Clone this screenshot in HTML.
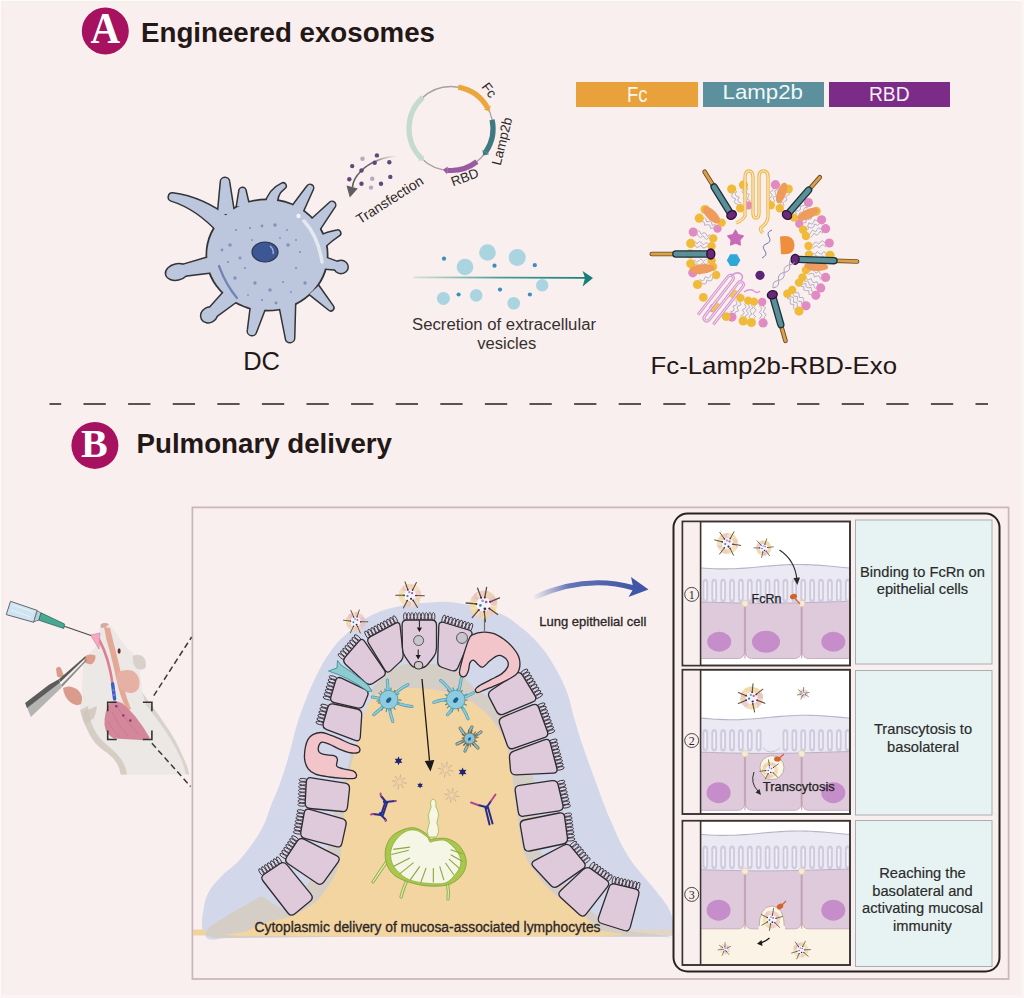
<!DOCTYPE html>
<html><head><meta charset="utf-8">
<style>
html,body{margin:0;padding:0;background:#f9efee;}
body{width:1024px;height:998px;overflow:hidden;}
svg{display:block;}
.s{font-family:"Liberation Sans",sans-serif;}
.serif{font-family:"Liberation Serif",serif;}
</style></head>
<body>
<svg width="1024" height="998" viewBox="0 0 1024 998" class="s">

<!-- base.svg -->
<rect x="0" y="0" width="1024" height="998" fill="#f9efee"/>
<rect x="0" y="0" width="1024" height="1.5" fill="#fdfcf9"/>
<rect x="0" y="0" width="1.5" height="998" fill="#fdfcf9"/>
<rect x="1.5" y="1.5" width="1021" height="1" fill="#f2eeeb"/>
<rect x="1.5" y="1.5" width="1" height="995" fill="#f2eeeb"/>
<rect x="1021.5" y="0" width="2.5" height="998" fill="#fbf5f4"/>
<rect x="0" y="995" width="1024" height="3" fill="#faf5f4"/>

<!-- secA.svg -->
<circle cx="105.3" cy="31" r="23.5" fill="#a6125f"/>
<text class="serif" transform="translate(105.2 42.6) scale(1 1.075)" x="0" y="0" text-anchor="middle" font-size="41" font-weight="bold" fill="#fff">A</text>
<text x="141" y="42" font-size="28" font-weight="bold" fill="#231816" textLength="294" lengthAdjust="spacingAndGlyphs">Engineered exosomes</text>
<rect x="576" y="82" width="122" height="25" fill="#e9a23b"/>
<rect x="703" y="82" width="121" height="25" fill="#5c909d"/>
<rect x="829" y="82" width="121" height="25" fill="#7a2c86"/>
<text x="627" y="101.6" font-size="21.5" fill="#fdf6ea" textLength="20.5" lengthAdjust="spacingAndGlyphs">Fc</text>
<text x="722.5" y="98.9" font-size="21" fill="#eef8f8" textLength="80.5" lengthAdjust="spacingAndGlyphs">Lamp2b</text>
<text x="869" y="101.4" font-size="20.5" fill="#fbeefb" textLength="40.5" lengthAdjust="spacingAndGlyphs">RBD</text>
<text x="243.2" y="370.4" font-size="25.5" fill="#231816">DC</text>
<g font-size="16" fill="#363131" text-anchor="middle">
<text x="504" y="330" textLength="184" lengthAdjust="spacingAndGlyphs">Secretion of extracellular</text>
<text x="506.7" y="349.3" font-size="16.6">vesicles</text>
</g>
<text x="650.5" y="374" font-size="24" fill="#231816" textLength="246.5" lengthAdjust="spacingAndGlyphs">Fc-Lamp2b-RBD-Exo</text>
<line x1="49.5" y1="404" x2="988" y2="404" stroke="#5b5251" stroke-width="2.2" stroke-dasharray="22.3 22.3" stroke-dashoffset="10.6"/>

<!-- plasmid.svg -->
<circle cx="451" cy="128.5" r="42" fill="none" stroke="#a5a2a3" stroke-width="1.3"/>
<path d="M420.8 157.7 A42.0 42.0 0 0 1 422.9 97.3" fill="none" stroke="#c6dbd0" stroke-width="5.2"/>
<path d="M417.9 160.5 L424.0 160.7 L423.7 154.9 Z" fill="#c6dbd0"/>
<path d="M458.3 87.1 A42.0 42.0 0 0 1 487.4 107.5" fill="none" stroke="#eaa73c" stroke-width="5.2"/>
<path d="M490.8 105.5 L489.4 111.4 L483.9 109.5 Z" fill="#eaa73c"/>
<path d="M492.1 119.8 A42.0 42.0 0 0 1 485.8 152.0" fill="none" stroke="#3f7a80" stroke-width="5.2"/>
<path d="M489.1 154.2 L483.2 155.5 L482.5 149.7 Z" fill="#3f7a80"/>
<path d="M476.9 161.6 A42.0 42.0 0 0 1 447.3 170.3" fill="none" stroke="#9a5aa2" stroke-width="5.2"/>
<path d="M447.0 174.3 L443.0 169.7 L447.7 166.4 Z" fill="#9a5aa2"/>
<text transform="translate(481,87) rotate(52)" font-size="13.5" fill="#2b2626">Fc</text>
<text transform="translate(500.5,166) rotate(-76)" font-size="13.5" fill="#2b2626">Lamp2b</text>
<text transform="translate(453,186.5) rotate(-20)" font-size="13.5" fill="#2b2626">RBD</text>
<text transform="translate(360,224.5) rotate(-32.5)" font-size="14" fill="#2b2626">Transfection</text>
<defs><linearGradient id="tg" x1="1" y1="0" x2="0" y2="1"><stop offset="0" stop-color="#6c6a6f" stop-opacity="0"/><stop offset="0.4" stop-color="#6c6a6f"/><stop offset="1" stop-color="#5e5c62"/></linearGradient></defs>
<path d="M397 156.3 C385 156.5 370 162 361 171 C356 176 353 181 352.5 187" fill="none" stroke="url(#tg)" stroke-width="1.6"/>
<path d="M346.5 185.5 L357.8 188.5 L349.8 197.5 Z" fill="#5f5d63"/>
<circle cx="376.9" cy="155.4" r="2.2" fill="#634679"/>
<circle cx="389.3" cy="162.2" r="2.2" fill="#634679"/>
<circle cx="352.2" cy="166.1" r="2.2" fill="#634679"/>
<circle cx="374.7" cy="162.7" r="2.2" fill="#634679"/>
<circle cx="361.5" cy="170.5" r="2.2" fill="#634679"/>
<circle cx="349.3" cy="179.3" r="2.2" fill="#634679"/>
<circle cx="390.3" cy="176.9" r="2.2" fill="#634679"/>
<circle cx="361.5" cy="183.7" r="2.2" fill="#634679"/>
<circle cx="381.0" cy="183.7" r="2.2" fill="#634679"/>
<circle cx="362.5" cy="158.8" r="2.2" fill="#b9a7c0"/>
<circle cx="372.2" cy="178.8" r="2.2" fill="#b9a7c0"/>
<circle cx="371.0" cy="187.6" r="2.2" fill="#b9a7c0"/>
<!-- dc.svg -->
<path d="M231.1 219.4 Q203.0 197.5 172.7 193.6 A3.5 3.5 0 0 0 171.3 200.4 Q197.0 208.5 218.9 232.6 Z" fill="#bcc6dc" stroke="#333338" stroke-width="3" stroke-linejoin="round"/>
<path d="M234.0 213.8 Q231.5 197.8 229.0 181.9 A4.0 4.0 0 0 0 221.0 182.1 Q219.5 198.2 218.0 214.2 Z" fill="#bcc6dc" stroke="#333338" stroke-width="3" stroke-linejoin="round"/>
<path d="M249.0 205.8 Q247.2 198.4 245.5 190.9 A3.0 3.0 0 0 0 239.5 191.1 Q238.3 198.6 237.0 206.2 Z" fill="#bcc6dc" stroke="#333338" stroke-width="3" stroke-linejoin="round"/>
<path d="M277.0 206.4 Q275.6 194.2 284.2 188.2 A2.5 2.5 0 0 0 281.8 183.8 Q268.4 189.8 265.0 205.6 Z" fill="#bcc6dc" stroke="#333338" stroke-width="3" stroke-linejoin="round"/>
<path d="M299.6 218.3 Q306.1 203.9 312.6 189.5 A3.0 3.0 0 0 0 307.4 186.5 Q297.9 199.1 288.4 211.7 Z" fill="#bcc6dc" stroke="#333338" stroke-width="3" stroke-linejoin="round"/>
<path d="M318.9 230.2 Q326.6 218.6 334.3 207.0 A3.0 3.0 0 0 0 329.7 203.0 Q319.4 212.4 309.1 221.8 Z" fill="#bcc6dc" stroke="#333338" stroke-width="3" stroke-linejoin="round"/>
<path d="M324.3 247.0 Q332.0 239.8 338.9 235.3 A2.5 2.5 0 0 0 337.1 230.7 Q328.0 232.2 317.7 237.0 Z" fill="#bcc6dc" stroke="#333338" stroke-width="3" stroke-linejoin="round"/>
<path d="M318.7 267.9 Q328.0 268.6 337.2 269.4 A3.5 3.5 0 0 0 338.8 262.6 Q330.0 259.4 321.3 256.1 Z" fill="#bcc6dc" stroke="#333338" stroke-width="3" stroke-linejoin="round"/>
<path d="M309.6 294.1 Q319.4 301.9 329.2 309.7 A2.5 2.5 0 0 0 332.8 306.3 Q325.6 296.1 318.4 285.9 Z" fill="#bcc6dc" stroke="#333338" stroke-width="3" stroke-linejoin="round"/>
<path d="M279.0 302.7 Q282.5 320.5 286.0 338.3 A4.0 4.0 0 0 0 294.0 337.7 Q294.5 319.5 295.0 301.3 Z" fill="#bcc6dc" stroke="#333338" stroke-width="3" stroke-linejoin="round"/>
<path d="M251.7 301.2 Q249.9 315.6 248.1 330.0 A4.0 4.0 0 0 0 255.9 332.0 Q261.1 318.4 266.3 304.8 Z" fill="#bcc6dc" stroke="#333338" stroke-width="3" stroke-linejoin="round"/>
<path d="M227.6 288.1 Q218.1 298.7 208.6 309.3 A5.0 5.0 0 0 0 215.4 316.7 Q226.9 308.3 238.4 299.9 Z" fill="#bcc6dc" stroke="#333338" stroke-width="3" stroke-linejoin="round"/>
<path d="M212.4 256.2 Q195.7 261.1 179.0 266.1 A5.0 5.0 0 0 0 181.0 275.9 Q198.3 273.9 215.6 271.8 Z" fill="#bcc6dc" stroke="#333338" stroke-width="3" stroke-linejoin="round"/>
<ellipse cx="177" cy="272" rx="11" ry="7.5" transform="rotate(-12 177 272)" fill="#bcc6dc" stroke="#333338" stroke-width="3"/>
<ellipse cx="209" cy="315" rx="8" ry="7" transform="rotate(-30 209 315)" fill="#bcc6dc" stroke="#333338" stroke-width="3"/>
<ellipse cx="341" cy="267" rx="6.5" ry="6" transform="rotate(0 341 267)" fill="#bcc6dc" stroke="#333338" stroke-width="3"/>
<ellipse cx="267" cy="255" rx="60" ry="55" fill="#bcc6dc" stroke="#333338" stroke-width="3"/>
<path d="M231.1 219.4 Q203.0 197.5 172.7 193.6 A3.5 3.5 0 0 0 171.3 200.4 Q197.0 208.5 218.9 232.6 Z" fill="#bcc6dc"/>
<path d="M234.0 213.8 Q231.5 197.8 229.0 181.9 A4.0 4.0 0 0 0 221.0 182.1 Q219.5 198.2 218.0 214.2 Z" fill="#bcc6dc"/>
<path d="M249.0 205.8 Q247.2 198.4 245.5 190.9 A3.0 3.0 0 0 0 239.5 191.1 Q238.3 198.6 237.0 206.2 Z" fill="#bcc6dc"/>
<path d="M277.0 206.4 Q275.6 194.2 284.2 188.2 A2.5 2.5 0 0 0 281.8 183.8 Q268.4 189.8 265.0 205.6 Z" fill="#bcc6dc"/>
<path d="M299.6 218.3 Q306.1 203.9 312.6 189.5 A3.0 3.0 0 0 0 307.4 186.5 Q297.9 199.1 288.4 211.7 Z" fill="#bcc6dc"/>
<path d="M318.9 230.2 Q326.6 218.6 334.3 207.0 A3.0 3.0 0 0 0 329.7 203.0 Q319.4 212.4 309.1 221.8 Z" fill="#bcc6dc"/>
<path d="M324.3 247.0 Q332.0 239.8 338.9 235.3 A2.5 2.5 0 0 0 337.1 230.7 Q328.0 232.2 317.7 237.0 Z" fill="#bcc6dc"/>
<path d="M318.7 267.9 Q328.0 268.6 337.2 269.4 A3.5 3.5 0 0 0 338.8 262.6 Q330.0 259.4 321.3 256.1 Z" fill="#bcc6dc"/>
<path d="M309.6 294.1 Q319.4 301.9 329.2 309.7 A2.5 2.5 0 0 0 332.8 306.3 Q325.6 296.1 318.4 285.9 Z" fill="#bcc6dc"/>
<path d="M279.0 302.7 Q282.5 320.5 286.0 338.3 A4.0 4.0 0 0 0 294.0 337.7 Q294.5 319.5 295.0 301.3 Z" fill="#bcc6dc"/>
<path d="M251.7 301.2 Q249.9 315.6 248.1 330.0 A4.0 4.0 0 0 0 255.9 332.0 Q261.1 318.4 266.3 304.8 Z" fill="#bcc6dc"/>
<path d="M227.6 288.1 Q218.1 298.7 208.6 309.3 A5.0 5.0 0 0 0 215.4 316.7 Q226.9 308.3 238.4 299.9 Z" fill="#bcc6dc"/>
<path d="M212.4 256.2 Q195.7 261.1 179.0 266.1 A5.0 5.0 0 0 0 181.0 275.9 Q198.3 273.9 215.6 271.8 Z" fill="#bcc6dc"/>
<ellipse cx="177" cy="272" rx="11" ry="7.5" transform="rotate(-12 177 272)" fill="#bcc6dc"/>
<ellipse cx="209" cy="315" rx="8" ry="7" transform="rotate(-30 209 315)" fill="#bcc6dc"/>
<ellipse cx="341" cy="267" rx="6.5" ry="6" transform="rotate(0 341 267)" fill="#bcc6dc"/>
<ellipse cx="267" cy="255" rx="59.8" ry="54.8" fill="#bcc6dc"/>
<path d="M304 221 Q318 236 322 262" stroke="#e4e8f0" stroke-width="3.5" fill="none" stroke-linecap="round"/>
<circle cx="298.5" cy="216" r="2.2" fill="#f0f2f6"/>
<path d="M219 266 Q226 285 237 298" stroke="#6f85b6" stroke-width="2.2" fill="none" stroke-linecap="round"/>
<circle cx="236" cy="230" r="1.1" fill="#7f92bd"/>
<circle cx="250" cy="228" r="1.1" fill="#7f92bd"/>
<circle cx="262" cy="226" r="1.4" fill="#7f92bd"/>
<circle cx="275" cy="225" r="1.7" fill="#7f92bd"/>
<circle cx="287" cy="230" r="0.9" fill="#7f92bd"/>
<circle cx="296" cy="240" r="0.9" fill="#7f92bd"/>
<circle cx="230" cy="245" r="1.7" fill="#7f92bd"/>
<circle cx="240" cy="258" r="1.4" fill="#7f92bd"/>
<circle cx="228" cy="262" r="1.1" fill="#7f92bd"/>
<circle cx="245" cy="268" r="1.1" fill="#7f92bd"/>
<circle cx="235" cy="278" r="1.7" fill="#7f92bd"/>
<circle cx="255" cy="283" r="1.7" fill="#7f92bd"/>
<circle cx="270" cy="290" r="1.7" fill="#7f92bd"/>
<circle cx="283" cy="282" r="1.1" fill="#7f92bd"/>
<circle cx="296" cy="268" r="1.1" fill="#7f92bd"/>
<circle cx="300" cy="252" r="1.1" fill="#7f92bd"/>
<circle cx="288" cy="245" r="1.7" fill="#7f92bd"/>
<circle cx="280" cy="238" r="0.9" fill="#7f92bd"/>
<circle cx="252" cy="240" r="0.9" fill="#7f92bd"/>
<circle cx="262" cy="300" r="1.1" fill="#7f92bd"/>
<circle cx="248" cy="295" r="0.9" fill="#7f92bd"/>
<circle cx="276" cy="303" r="1.4" fill="#7f92bd"/>
<circle cx="291" cy="292" r="0.9" fill="#7f92bd"/>
<circle cx="222" cy="250" r="1.4" fill="#7f92bd"/>
<circle cx="305" cy="283" r="1.7" fill="#7f92bd"/>
<ellipse cx="265" cy="252" rx="13" ry="10" fill="#3d5795" stroke="#2b3550" stroke-width="1.2"/>
<path d="M270 246 Q274 249 273 254" stroke="#a9b8d9" stroke-width="1.3" fill="none"/>
<!-- vesicles.svg -->
<defs><linearGradient id="vg" x1="0" y1="0" x2="1" y2="0"><stop offset="0" stop-color="#1b8b82" stop-opacity="0.15"/><stop offset="0.5" stop-color="#1b8b82" stop-opacity="0.8"/><stop offset="1" stop-color="#178078"/></linearGradient></defs>
<g fill="#a9d4e0">
<circle cx="465" cy="267" r="8.3"/><circle cx="487.5" cy="252.5" r="8.3"/><circle cx="517.2" cy="257.5" r="8.5"/>
<circle cx="542.2" cy="285.3" r="6.2"/><circle cx="443.4" cy="298.4" r="6.5"/><circle cx="476.2" cy="295.4" r="6.3"/><circle cx="513.7" cy="303.2" r="6.3"/>
</g>
<g fill="#3b8fbc">
<circle cx="444" cy="258.7" r="2.1"/><circle cx="494.5" cy="265.7" r="2.1"/><circle cx="534.8" cy="265.2" r="2.1"/>
<circle cx="458.6" cy="294.5" r="2.1"/><circle cx="500" cy="289.6" r="2.1"/><circle cx="529.9" cy="294.5" r="2.1"/>
</g>
<line x1="413.5" y1="277.4" x2="585" y2="277.8" stroke="url(#vg)" stroke-width="1.8"/>
<path d="M582.6 271 L593 278 L582.6 286.6 L585 278 Z" fill="#178078"/>

<!-- exo.svg -->
<path d="M694.0 255.2 L696.2 254.9 L698.5 257.3 L700.5 254.9 L702.7 254.6 L705.0 257.0 L707.0 254.6 " stroke="#aeaabd" stroke-width="0.9" fill="none"/>
<path d="M694.0 250.3 L696.2 253.0 L698.3 252.0 L700.5 250.4 L702.7 253.2 L704.8 252.2 L707.0 250.5 " stroke="#aeaabd" stroke-width="0.9" fill="none"/>
<path d="M694.5 244.4 L696.4 247.3 L698.6 247.0 L701.0 245.1 L702.9 248.0 L705.1 247.7 L707.5 245.8 " stroke="#aeaabd" stroke-width="0.9" fill="none"/>
<path d="M695.0 241.3 L696.8 243.8 L699.4 241.7 L701.5 242.4 L703.2 244.9 L705.8 242.8 L707.9 243.5 " stroke="#aeaabd" stroke-width="0.9" fill="none"/>
<path d="M696.8 233.8 L698.4 236.2 L700.3 237.6 L703.1 235.6 L704.7 238.0 L706.5 239.4 L709.3 237.3 " stroke="#aeaabd" stroke-width="0.9" fill="none"/>
<path d="M698.0 230.4 L699.9 231.6 L701.2 234.3 L704.1 232.5 L706.0 233.7 L707.4 236.4 L710.3 234.6 " stroke="#aeaabd" stroke-width="0.9" fill="none"/>
<path d="M702.0 221.5 L704.1 222.1 L704.8 225.4 L707.7 224.5 L709.9 225.2 L710.6 228.5 L713.5 227.6 " stroke="#aeaabd" stroke-width="0.9" fill="none"/>
<path d="M704.3 217.6 L705.9 219.0 L706.7 222.0 L709.8 221.0 L711.5 222.4 L712.2 225.4 L715.4 224.4 " stroke="#aeaabd" stroke-width="0.9" fill="none"/>
<path d="M707.1 213.5 L709.5 214.0 L709.6 217.5 L712.3 217.4 L714.7 217.9 L714.8 221.3 L717.6 221.3 " stroke="#aeaabd" stroke-width="0.9" fill="none"/>
<path d="M710.2 209.7 L711.6 211.4 L711.8 214.5 L715.2 213.9 L716.6 215.6 L716.8 218.6 L720.1 218.1 " stroke="#aeaabd" stroke-width="0.9" fill="none"/>
<path d="M732.9 192.8 L731.6 195.8 L732.7 197.7 L735.7 198.7 L734.4 201.7 L735.5 203.6 L738.5 204.5 " stroke="#aeaabd" stroke-width="0.9" fill="none"/>
<path d="M736.7 191.2 L735.1 194.2 L736.3 196.1 L739.2 197.2 L737.6 200.2 L738.8 202.1 L741.6 203.3 " stroke="#aeaabd" stroke-width="0.9" fill="none"/>
<path d="M743.8 189.0 L741.8 191.8 L743.3 193.6 L745.6 195.3 L743.5 198.1 L745.0 199.9 L747.3 201.5 " stroke="#aeaabd" stroke-width="0.9" fill="none"/>
<path d="M747.8 188.1 L746.8 190.6 L746.0 192.9 L749.2 194.5 L748.1 196.9 L747.4 199.3 L750.5 200.8 " stroke="#aeaabd" stroke-width="0.9" fill="none"/>
<path d="M773.4 188.4 L772.8 190.5 L770.1 192.2 L772.2 194.8 L771.5 196.8 L768.9 198.5 L771.0 201.1 " stroke="#aeaabd" stroke-width="0.9" fill="none"/>
<path d="M777.9 189.5 L774.7 190.9 L775.4 193.3 L776.3 195.8 L773.1 197.2 L773.8 199.6 L774.7 202.1 " stroke="#aeaabd" stroke-width="0.9" fill="none"/>
<path d="M785.3 192.1 L782.5 193.2 L784.1 196.2 L782.9 198.1 L780.1 199.3 L781.6 202.2 L780.4 204.1 " stroke="#aeaabd" stroke-width="0.9" fill="none"/>
<path d="M789.9 194.1 L787.6 195.4 L785.5 196.8 L787.0 200.0 L784.8 201.3 L782.7 202.7 L784.2 205.8 " stroke="#aeaabd" stroke-width="0.9" fill="none"/>
<path d="M805.0 204.7 L803.1 205.9 L800.1 206.1 L800.6 209.5 L798.7 210.7 L795.7 211.0 L796.3 214.3 " stroke="#aeaabd" stroke-width="0.9" fill="none"/>
<path d="M808.3 207.9 L804.9 207.6 L803.7 209.4 L803.6 212.5 L800.3 212.2 L799.0 214.0 L799.0 217.0 " stroke="#aeaabd" stroke-width="0.9" fill="none"/>
<path d="M812.5 213.0 L810.2 213.6 L807.4 213.5 L807.4 217.0 L805.1 217.6 L802.3 217.6 L802.3 221.0 " stroke="#aeaabd" stroke-width="0.9" fill="none"/>
<path d="M814.4 215.6 L811.6 215.3 L811.3 218.8 L809.1 219.3 L806.2 219.0 L806.0 222.5 L803.7 223.0 " stroke="#aeaabd" stroke-width="0.9" fill="none"/>
<path d="M817.7 220.9 L814.5 219.7 L813.5 222.3 L812.1 224.2 L808.8 222.9 L807.9 225.6 L806.5 227.5 " stroke="#aeaabd" stroke-width="0.9" fill="none"/>
<path d="M819.4 224.2 L817.5 225.3 L814.5 224.0 L813.6 227.1 L811.7 228.2 L808.6 226.9 L807.7 230.0 " stroke="#aeaabd" stroke-width="0.9" fill="none"/>
<path d="M821.7 229.5 L818.6 227.7 L817.1 229.6 L815.7 231.9 L812.6 230.2 L811.0 232.1 L809.6 234.4 " stroke="#aeaabd" stroke-width="0.9" fill="none"/>
<path d="M823.0 233.1 L820.0 231.3 L818.6 233.7 L816.8 235.2 L813.9 233.3 L812.4 235.8 L810.6 237.3 " stroke="#aeaabd" stroke-width="0.9" fill="none"/>
<path d="M825.3 243.1 L822.7 240.8 L820.6 241.8 L818.9 244.2 L816.3 242.0 L814.2 242.9 L812.5 245.3 " stroke="#aeaabd" stroke-width="0.9" fill="none"/>
<path d="M825.8 247.2 L823.3 244.8 L821.2 245.6 L819.3 247.9 L816.9 245.6 L814.8 246.3 L812.8 248.6 " stroke="#aeaabd" stroke-width="0.9" fill="none"/>
<path d="M826.0 253.6 L823.8 251.5 L821.7 254.1 L819.5 253.5 L817.3 251.5 L815.2 254.1 L813.0 253.5 " stroke="#aeaabd" stroke-width="0.9" fill="none"/>
<path d="M825.8 258.8 L823.7 256.5 L821.6 255.9 L819.3 258.4 L817.3 256.1 L815.1 255.5 L812.8 258.0 " stroke="#aeaabd" stroke-width="0.9" fill="none"/>
<path d="M822.1 275.3 L820.4 273.6 L818.9 271.3 L816.0 273.2 L814.3 271.5 L812.7 269.2 L809.8 271.1 " stroke="#aeaabd" stroke-width="0.9" fill="none"/>
<path d="M820.5 279.4 L819.5 276.2 L817.3 275.8 L814.5 277.0 L813.5 273.7 L811.3 273.3 L808.5 274.5 " stroke="#aeaabd" stroke-width="0.9" fill="none"/>
<path d="M817.9 284.7 L817.1 281.6 L814.0 282.8 L812.2 281.6 L811.3 278.6 L808.3 279.7 L806.4 278.6 " stroke="#aeaabd" stroke-width="0.9" fill="none"/>
<path d="M815.4 288.8 L814.3 286.5 L813.2 284.2 L809.9 285.4 L808.8 283.1 L807.7 280.8 L804.4 282.0 " stroke="#aeaabd" stroke-width="0.9" fill="none"/>
<path d="M813.5 291.7 L811.5 290.8 L811.2 287.4 L808.2 287.9 L806.2 287.0 L805.9 283.6 L802.9 284.1 " stroke="#aeaabd" stroke-width="0.9" fill="none"/>
<path d="M811.1 294.7 L808.9 294.1 L808.9 290.6 L806.1 290.6 L803.8 290.0 L803.8 286.5 L801.0 286.6 " stroke="#aeaabd" stroke-width="0.9" fill="none"/>
<path d="M803.8 302.4 L803.6 299.6 L802.9 297.4 L799.4 297.6 L799.2 294.9 L798.4 292.6 L795.0 292.9 " stroke="#aeaabd" stroke-width="0.9" fill="none"/>
<path d="M801.3 304.5 L801.6 301.4 L798.3 301.4 L797.2 299.5 L797.5 296.4 L794.1 296.3 L793.1 294.4 " stroke="#aeaabd" stroke-width="0.9" fill="none"/>
<path d="M797.2 307.5 L797.4 304.7 L796.9 302.4 L793.5 302.2 L793.6 299.5 L793.2 297.1 L789.7 296.9 " stroke="#aeaabd" stroke-width="0.9" fill="none"/>
<path d="M794.0 309.6 L793.6 307.3 L794.0 304.5 L790.6 304.1 L790.1 301.8 L790.6 299.0 L787.1 298.6 " stroke="#aeaabd" stroke-width="0.9" fill="none"/>
<path d="M763.8 318.9 L764.5 316.7 L766.2 314.4 L763.3 312.4 L764.0 310.2 L765.7 307.9 L762.8 305.9 " stroke="#aeaabd" stroke-width="0.9" fill="none"/>
<path d="M759.3 319.0 L761.1 316.8 L762.0 314.6 L759.3 312.5 L761.1 310.3 L761.9 308.1 L759.2 306.0 " stroke="#aeaabd" stroke-width="0.9" fill="none"/>
<path d="M753.6 318.7 L755.7 316.7 L753.3 314.3 L754.1 312.2 L756.3 310.2 L753.8 307.8 L754.7 305.7 " stroke="#aeaabd" stroke-width="0.9" fill="none"/>
<path d="M749.2 318.1 L749.3 315.9 L752.1 314.2 L750.2 311.7 L750.3 309.5 L753.1 307.8 L751.2 305.3 " stroke="#aeaabd" stroke-width="0.9" fill="none"/>
<path d="M745.1 317.3 L746.1 315.3 L748.6 313.6 L746.5 311.0 L747.4 308.9 L749.9 307.3 L747.9 304.6 " stroke="#aeaabd" stroke-width="0.9" fill="none"/>
<path d="M740.6 316.1 L743.3 314.6 L744.2 312.6 L742.3 309.8 L745.1 308.4 L746.0 306.4 L744.1 303.6 " stroke="#aeaabd" stroke-width="0.9" fill="none"/>
<path d="M734.8 314.0 L735.4 311.9 L738.6 310.8 L737.2 308.0 L737.8 305.9 L741.0 304.8 L739.7 301.9 " stroke="#aeaabd" stroke-width="0.9" fill="none"/>
<path d="M730.2 311.9 L733.4 311.0 L734.2 309.0 L733.0 306.0 L736.1 305.1 L737.0 303.1 L735.8 300.2 " stroke="#aeaabd" stroke-width="0.9" fill="none"/>
<path d="M701.3 283.1 L704.3 284.2 L706.2 283.2 L707.0 280.0 L710.0 281.1 L711.9 280.1 L712.7 276.9 " stroke="#aeaabd" stroke-width="0.9" fill="none"/>
<path d="M699.5 279.4 L702.6 281.0 L704.2 279.3 L705.4 276.7 L708.5 278.2 L710.1 276.6 L711.3 274.0 " stroke="#aeaabd" stroke-width="0.9" fill="none"/>
<path d="M696.9 272.5 L699.8 274.4 L701.3 271.9 L703.1 270.5 L706.0 272.4 L707.5 269.9 L709.3 268.5 " stroke="#aeaabd" stroke-width="0.9" fill="none"/>
<path d="M695.9 268.9 L698.6 270.6 L700.1 267.8 L702.2 267.2 L704.9 269.0 L706.4 266.1 L708.5 265.6 " stroke="#aeaabd" stroke-width="0.9" fill="none"/>
<path d="M695.1 264.8 L697.1 263.8 L699.7 266.0 L701.4 263.6 L703.5 262.6 L706.1 264.8 L707.8 262.4 " stroke="#aeaabd" stroke-width="0.9" fill="none"/>
<path d="M694.3 259.7 L696.8 262.1 L698.8 260.9 L700.8 258.9 L703.3 261.3 L705.3 260.1 L707.2 258.1 " stroke="#aeaabd" stroke-width="0.9" fill="none"/>
<circle cx="690.0" cy="253.9" r="4.6" fill="#f0bb3b"/>
<circle cx="711.0" cy="253.6" r="4.2" fill="#e08cc2"/>
<circle cx="690.7" cy="243.4" r="4.6" fill="#f0bb3b"/>
<circle cx="711.5" cy="246.3" r="4.2" fill="#f0bb3b"/>
<circle cx="693.2" cy="232.1" r="4.6" fill="#e08cc2"/>
<circle cx="713.2" cy="238.4" r="4.2" fill="#f0bb3b"/>
<circle cx="699.3" cy="218.2" r="4.6" fill="#f0bb3b"/>
<circle cx="717.5" cy="228.6" r="4.2" fill="#e08cc2"/>
<circle cx="705.1" cy="209.6" r="4.6" fill="#f0bb3b"/>
<circle cx="721.6" cy="222.6" r="4.2" fill="#f0bb3b"/>
<circle cx="731.7" cy="189.0" r="4.6" fill="#f0bb3b"/>
<circle cx="740.2" cy="208.2" r="4.2" fill="#f0bb3b"/>
<circle cx="743.5" cy="185.0" r="4.6" fill="#f0bb3b"/>
<circle cx="748.4" cy="205.4" r="4.2" fill="#e08cc2"/>
<circle cx="775.4" cy="184.7" r="4.6" fill="#e08cc2"/>
<circle cx="770.8" cy="205.2" r="4.2" fill="#f0bb3b"/>
<circle cx="788.3" cy="189.0" r="4.6" fill="#f0bb3b"/>
<circle cx="779.8" cy="208.2" r="4.2" fill="#f0bb3b"/>
<circle cx="808.4" cy="202.5" r="4.6" fill="#e08cc2"/>
<circle cx="793.9" cy="217.6" r="4.2" fill="#f0bb3b"/>
<circle cx="816.2" cy="211.3" r="4.6" fill="#f0bb3b"/>
<circle cx="799.3" cy="223.8" r="4.2" fill="#e08cc2"/>
<circle cx="821.6" cy="219.8" r="4.6" fill="#e08cc2"/>
<circle cx="803.1" cy="229.7" r="4.2" fill="#f0bb3b"/>
<circle cx="825.6" cy="228.7" r="4.6" fill="#e08cc2"/>
<circle cx="805.9" cy="236.0" r="4.2" fill="#f0bb3b"/>
<circle cx="829.3" cy="243.0" r="4.6" fill="#e08cc2"/>
<circle cx="808.5" cy="246.0" r="4.2" fill="#f0bb3b"/>
<circle cx="830.0" cy="255.3" r="4.6" fill="#f0bb3b"/>
<circle cx="809.0" cy="254.6" r="4.2" fill="#f0bb3b"/>
<circle cx="825.6" cy="277.4" r="4.6" fill="#e08cc2"/>
<circle cx="805.9" cy="270.1" r="4.2" fill="#f0bb3b"/>
<circle cx="820.7" cy="287.9" r="4.6" fill="#e08cc2"/>
<circle cx="802.5" cy="277.4" r="4.2" fill="#f0bb3b"/>
<circle cx="815.8" cy="295.3" r="4.6" fill="#e08cc2"/>
<circle cx="799.0" cy="282.6" r="4.2" fill="#f0bb3b"/>
<circle cx="806.0" cy="305.8" r="4.6" fill="#e08cc2"/>
<circle cx="792.2" cy="290.0" r="4.2" fill="#f0bb3b"/>
<circle cx="799.0" cy="311.1" r="4.6" fill="#f0bb3b"/>
<circle cx="787.3" cy="293.7" r="4.2" fill="#f0bb3b"/>
<circle cx="763.1" cy="322.9" r="4.6" fill="#e08cc2"/>
<circle cx="762.2" cy="302.0" r="4.2" fill="#e08cc2"/>
<circle cx="751.4" cy="322.5" r="4.6" fill="#f0bb3b"/>
<circle cx="754.0" cy="301.6" r="4.2" fill="#f0bb3b"/>
<circle cx="743.2" cy="320.9" r="4.6" fill="#f0bb3b"/>
<circle cx="748.2" cy="300.6" r="4.2" fill="#f0bb3b"/>
<circle cx="731.9" cy="317.1" r="4.6" fill="#e08cc2"/>
<circle cx="740.4" cy="297.9" r="4.2" fill="#f0bb3b"/>
<circle cx="697.5" cy="284.5" r="4.6" fill="#f0bb3b"/>
<circle cx="716.2" cy="275.0" r="4.2" fill="#f0bb3b"/>
<circle cx="692.8" cy="272.8" r="4.6" fill="#e08cc2"/>
<circle cx="713.0" cy="266.8" r="4.2" fill="#f0bb3b"/>
<circle cx="690.8" cy="263.8" r="4.6" fill="#f0bb3b"/>
<circle cx="711.6" cy="260.6" r="4.2" fill="#f0bb3b"/>
<circle cx="726.2" cy="316.6" r="4.4" fill="#f0bb3b"/>
<circle cx="713.7" cy="308.2" r="4.4" fill="#e08cc2"/>
<circle cx="703.3" cy="297.3" r="4.4" fill="#f0bb3b"/>
<ellipse cx="711.5" cy="215.0" rx="11.0" ry="5.0" transform="rotate(45.0 711.5 215.0)" fill="#ef9b5c"/>
<ellipse cx="781.6" cy="193.0" rx="11.0" ry="4.5" transform="rotate(-70.0 781.6 193.0)" fill="#ef9b5c"/>
<ellipse cx="808.0" cy="214.2" rx="11.5" ry="4.8" transform="rotate(-25.0 808.0 214.2)" fill="#ef9b5c"/>
<ellipse cx="702.0" cy="269.0" rx="12.5" ry="4.8" transform="rotate(-5.0 702.0 269.0)" fill="#ef9b5c"/>
<ellipse cx="816.2" cy="266.4" rx="12.0" ry="4.5" transform="rotate(3.0 816.2 266.4)" fill="#ef9b5c"/>
<path d="M736 223 Q742 221 745 216 L745 178 Q745 171 749 171 Q753 171 753 178 L753 213 Q753 218 756 218 Q759 218 759 213 L759 177 Q759 171 763.5 171 Q768 171 768 177 L768 216 Q768 222 763 226 Q758 229 763 233" fill="none" stroke="#f0b848" stroke-width="3.4" stroke-linejoin="round"/>
<path d="M736 223 Q742 221 745 216 L745 178 Q745 171 749 171 Q753 171 753 178 L753 213 Q753 218 756 218 Q759 218 759 213 L759 177 Q759 171 763.5 171 Q768 171 768 177 L768 216 Q768 222 763 226 Q758 229 763 233" fill="none" stroke="#fbeede" stroke-width="1.1" stroke-linejoin="round"/>
<g transform="translate(721 300) rotate(-52)"><rect x="-14" y="-2" width="10" height="4" fill="#f1c552"/><rect x="8" y="4" width="9" height="4" fill="#f1c552"/><path d="M-26 -9 L22 -9 Q26 -9 26 -6 Q26 -3 22 -3 L-22 -3 Q-26 -3 -26 0 Q-26 3 -22 3 L24 3 Q27 3 27 6 Q27 9 24 9 L-24 9" fill="none" stroke="#d79ad2" stroke-width="3" stroke-linejoin="round"/><path d="M-26 -9 L22 -9 Q26 -9 26 -6 Q26 -3 22 -3 L-22 -3 Q-26 -3 -26 0 Q-26 3 -22 3 L24 3 Q27 3 27 6 Q27 9 24 9 L-24 9" fill="none" stroke="#f6e4ea" stroke-width="0.9" stroke-linejoin="round"/></g>
<path d="M731 276 Q736 271 741 274 Q744 277 741 280" fill="none" stroke="#d79ad2" stroke-width="1.5"/>
<path d="M744 292 Q750 288 754 291 Q757 294 760 291" fill="none" stroke="#d79ad2" stroke-width="1.5"/>
<line x1="714.1" y1="187.0" x2="704.6" y2="171.7" stroke="#6b4a1c" stroke-width="4.6" stroke-linecap="round"/><line x1="714.1" y1="187.0" x2="704.6" y2="171.7" stroke="#d9a04e" stroke-width="2.8" stroke-linecap="round"/><line x1="730.0" y1="212.5" x2="714.1" y2="187.0" stroke="#1e3138" stroke-width="7.4" stroke-linecap="round"/><line x1="730.0" y1="212.5" x2="714.1" y2="187.0" stroke="#5a8f98" stroke-width="4.8" stroke-linecap="round"/><ellipse cx="731.6" cy="215.0" rx="4.0" ry="5.0" transform="rotate(-122.0 731.6 215.0)" fill="#6a2878" stroke="#2a1030" stroke-width="1.3"/>
<line x1="808.6" y1="190.1" x2="819.8" y2="177.3" stroke="#6b4a1c" stroke-width="4.6" stroke-linecap="round"/><line x1="808.6" y1="190.1" x2="819.8" y2="177.3" stroke="#d9a04e" stroke-width="2.8" stroke-linecap="round"/><line x1="789.0" y1="212.7" x2="808.6" y2="190.1" stroke="#1e3138" stroke-width="7.4" stroke-linecap="round"/><line x1="789.0" y1="212.7" x2="808.6" y2="190.1" stroke="#5a8f98" stroke-width="4.8" stroke-linecap="round"/><ellipse cx="787.0" cy="215.0" rx="4.0" ry="5.0" transform="rotate(-49.0 787.0 215.0)" fill="#6a2878" stroke="#2a1030" stroke-width="1.3"/>
<line x1="675.8" y1="254.0" x2="651.8" y2="254.0" stroke="#6b4a1c" stroke-width="4.6" stroke-linecap="round"/><line x1="675.8" y1="254.0" x2="651.8" y2="254.0" stroke="#d9a04e" stroke-width="2.8" stroke-linecap="round"/><line x1="707.8" y1="254.0" x2="675.8" y2="254.0" stroke="#1e3138" stroke-width="7.4" stroke-linecap="round"/><line x1="707.8" y1="254.0" x2="675.8" y2="254.0" stroke="#5a8f98" stroke-width="4.8" stroke-linecap="round"/><ellipse cx="710.8" cy="254.0" rx="4.0" ry="5.0" transform="rotate(180.0 710.8 254.0)" fill="#6a2878" stroke="#2a1030" stroke-width="1.3"/>
<line x1="834.1" y1="260.7" x2="857.1" y2="261.5" stroke="#6b4a1c" stroke-width="4.6" stroke-linecap="round"/><line x1="834.1" y1="260.7" x2="857.1" y2="261.5" stroke="#d9a04e" stroke-width="2.8" stroke-linecap="round"/><line x1="798.1" y1="259.4" x2="834.1" y2="260.7" stroke="#1e3138" stroke-width="7.4" stroke-linecap="round"/><line x1="798.1" y1="259.4" x2="834.1" y2="260.7" stroke="#5a8f98" stroke-width="4.8" stroke-linecap="round"/><ellipse cx="795.1" cy="259.3" rx="4.0" ry="5.0" transform="rotate(2.0 795.1 259.3)" fill="#6a2878" stroke="#2a1030" stroke-width="1.3"/>
<line x1="780.8" y1="324.6" x2="785.5" y2="340.9" stroke="#6b4a1c" stroke-width="4.6" stroke-linecap="round"/><line x1="780.8" y1="324.6" x2="785.5" y2="340.9" stroke="#d9a04e" stroke-width="2.8" stroke-linecap="round"/><line x1="773.1" y1="297.7" x2="780.8" y2="324.6" stroke="#1e3138" stroke-width="7.4" stroke-linecap="round"/><line x1="773.1" y1="297.7" x2="780.8" y2="324.6" stroke="#5a8f98" stroke-width="4.8" stroke-linecap="round"/><ellipse cx="772.3" cy="294.8" rx="4.0" ry="5.0" transform="rotate(74.0 772.3 294.8)" fill="#6a2878" stroke="#2a1030" stroke-width="1.3"/>
<path d="M735.5 230.4 L738.1 234.8 L743.1 235.9 L739.8 239.8 L740.2 244.9 L735.5 242.9 L730.8 244.9 L731.2 239.8 L727.9 235.9 L732.9 234.8 Z" fill="#c86ab8" stroke="#c86ab8" stroke-width="1.5" stroke-linejoin="round"/>
<path d="M740.4 260.2 L737.0 266.1 L730.2 266.1 L726.8 260.2 L730.2 254.3 L737.0 254.3 Z" fill="#2fa8d8"/>
<circle cx="760" cy="275.3" r="4.6" fill="#5b2475"/>
<path d="M780 236.5 L781 254 Q794.5 256 794.5 245 Q794 234 780 236.5 Z" fill="#ef8f3e"/>
<path d="M772 230 Q766 232 769 237 Q772 242 766 244 Q761 246 765 251 Q768 255 762 258" fill="none" stroke="#6e78a8" stroke-width="1"/>
<path d="M773.0 288.0 L776.3 286.9 L778.3 285.0 L778.7 281.8 L778.4 278.2 L779.0 275.3 L781.3 273.4 L784.6 272.4 L787.8 271.3 L789.6 269.1 L789.8 265.9 L789.6 262.3 L790.4 259.5 " fill="none" stroke="#9aa0c0" stroke-width="1"/><path d="M773.0 288.0 L773.0 284.6 L774.2 282.0 L777.1 280.7 L780.6 279.8 L783.2 278.2 L784.2 275.6 L784.1 272.1 L784.2 268.7 L785.7 266.4 L788.7 265.1 L792.2 264.2 L794.6 262.5 " fill="none" stroke="#b9a0c0" stroke-width="1"/>
<!-- secB.svg -->
<circle cx="94.9" cy="445.4" r="23.5" fill="#a6125f"/>
<text class="serif" x="94.3" y="456.8" text-anchor="middle" font-size="40" font-weight="bold" fill="#fff">B</text>
<text x="136.5" y="453.3" font-size="28" font-weight="bold" fill="#231816" textLength="255.5" lengthAdjust="spacingAndGlyphs">Pulmonary delivery</text>
<rect x="192.4" y="507.4" width="816.2" height="471.6" fill="none" stroke="#cbb3bf" stroke-width="1.7"/>

<!-- mouse.svg -->
<!-- mouse body -->
<path d="M104.3 623.5 Q99 624 99.5 630 L100.5 640 Q96 648 90 653 Q84 658 83 668 L82 690 Q80 700 80.2 710.3 Q82 720 86.5 728.1 Q90 737 95.4 743.3 Q101 749 108 753.5 Q114 758 117 763.6 Q120 769 120.8 774.4 L189.3 774.4 Q187 765 184.3 759.8 Q180 750 175.4 740.8 Q170 731 164 723 Q158 714 152.5 706.5 Q146 698 142.1 692 L141 681 Q140 674 139.4 671.3 L144.8 667.7 L143.9 660.5 Q139 657 134.9 655.1 Q131 651 128.6 649.7 Q124 645 120.5 639.8 Q115 631 111.5 626.2 Q108 623 104.3 623.5 Z" fill="#ebe8e5"/>
<path d="M80.2 710.3 Q82 720 86.5 728.1 Q90 737 95.4 743.3 Q101 749 108 753.5 Q114 758 117 763.6 Q120 769 120.8 774.4 L127 774.4 Q126 766 121 759 Q115 751 107 745 Q98 738 93 727 Q89 718 88 706 Z" fill="#d6cec4"/>
<path d="M82.5 712 L97 706 Q96 713 94 718 Q89 722 85 724 Z" fill="#cfc6ba" opacity="0.8"/>
<path d="M142.1 692 Q146 698 152.5 706.5 Q158 714 164 723 Q170 731 175.4 740.8 Q180 750 184.3 759.8 Q187 765 189.3 774.4 L186 774.4 Q184 766 181 759 Q176 748 171 740 Q165 730 159 722 Q152 713 146 705 Z" fill="#d9d3cc"/>
<!-- ear -->
<path d="M133 656 Q138 653 143.5 657 Q147 662 145.5 668 Q141 671 136 668 Q132 663 133 656 Z" fill="#d7d0cb"/>
<!-- salmon esophagus band -->
<path d="M104 627 Q106 640 110 652 Q114 668 117 682 Q120 696 125 706 Q128 711 131 709 Q127 700 124 688 Q121 672 117 656 Q113 641 110 628 Z" fill="#e3a896"/>
<!-- forelimb -->
<path d="M117 673 Q125 668 133 671 Q140 675 139.5 684 Q139 692 132 693 Q124 693 119.5 688 Q116 681 117 673 Z" fill="#e6b0a4"/>
<!-- eye -->
<ellipse cx="119.1" cy="651" rx="1.5" ry="2.8" fill="#6a2a22"/>
<!-- nose -->
<path d="M100.5 624.5 Q104 622 109 624 Q106 628 101 628 Z" fill="#d9a8a0"/>
<!-- intubation tube -->
<path d="M97 635.5 Q101 643 104 650 Q108 660 110.5 672 Q112 680 112.8 686" fill="none" stroke="#de7d92" stroke-width="2.6"/>
<path d="M112.6 684 L114.6 699" stroke="#3d5ec4" stroke-width="3.4" stroke-linecap="round"/>
<circle cx="113.5" cy="690" r="0.8" fill="#9ab0f0"/><circle cx="114" cy="695" r="0.8" fill="#9ab0f0"/>
<path d="M90.5 635 L100 632.9 L99 649 Z" fill="#f2a9c3" stroke="#d77a98" stroke-width="0.6"/>
<!-- lung -->
<path d="M110 702 Q116 700 122 703 Q128 708 135 716 Q143 726 150 738.2 Q146 740.5 141 740.1 L114 738.5 Q106 735 104.5 725 Q104 712 110 702 Z" fill="#d4879b"/>
<path d="M112 712 Q118 725 128 736 M118 708 Q126 720 138 734 M108 722 Q113 731 120 737" fill="none" stroke="#c47088" stroke-width="0.6"/>
<circle cx="116.3" cy="706.3" r="1.2" fill="#7a3a6a"/><circle cx="123.3" cy="715.4" r="1.2" fill="#7a3a6a"/><circle cx="130.3" cy="720.5" r="1.2" fill="#7a3a6a"/>
<!-- brackets -->
<g fill="none" stroke="#333" stroke-width="1.6">
<path d="M107.7 711.3 L107.7 702.3 L116.7 702.3"/><path d="M142.9 702.3 L151.9 702.3 L151.9 711.3"/>
<path d="M107.7 730.5 L107.7 739.5 L116.7 739.5"/><path d="M142.9 739.5 L151.9 739.5 L151.9 730.5"/>
</g>
<!-- dashed lines -->
<line x1="153.8" y1="695.7" x2="191.6" y2="637" stroke="#3f3a3a" stroke-width="1.5" stroke-dasharray="6 3.5"/>
<line x1="151.9" y1="743.3" x2="190.6" y2="786.5" stroke="#3f3a3a" stroke-width="1.5" stroke-dasharray="6 3.5"/>
<!-- hands -->
<path d="M56 669 Q58 665 61 668 L64 676 Q60 679 57 676 Z" fill="#d99c8c"/>
<path d="M63 688 Q70 684 78 690 Q84 696 81 704 Q76 707 70 702 Q64 697 63 688 Z" fill="#d99c8c"/>
<path d="M84.2 657 Q89 653 95.4 655.5 Q96 661 92 664 Q87 665 84.2 661 Z" fill="#df9e8c"/>
<!-- forceps -->
<path d="M25.2 703 L49.1 684.8 L58.9 679.2 L61.7 687.6 L30.9 717 Z" fill="#b4b4b4"/>
<path d="M25.2 703 L49.1 684.8 L58.9 679.2 L60 682.6 L27 708 Z" fill="#5c5c5c"/>
<path d="M58.9 679.2 L85 656.5 L86 657.5 L60.5 682 Z" fill="#5a5a5a"/>
<path d="M61 685 L86.5 659 L87.3 660 L62 687 Z" fill="#8a8a8a"/>
<!-- syringe -->
<path d="M10.5 601.3 L37.2 610.4 L33.7 622.3 L6.3 614.6 Z" fill="#cfe3f1" stroke="#5f6870" stroke-width="1"/>
<path d="M13 605 L33 612 M11 610 L31 617" stroke="#e9f2fa" stroke-width="1"/>
<path d="M37.2 610.8 L41 613 L39 620 L33.7 621.8 Z" fill="#b9cedd" stroke="#5f6870" stroke-width="0.8"/>
<path d="M41 612.8 L64.5 624 L63.8 628.5 L38.8 620.2 Z" fill="#48a891" stroke="#2f6c60" stroke-width="0.8"/>
<line x1="64.3" y1="626.3" x2="91" y2="635.5" stroke="#4a4a50" stroke-width="1.2"/>

<!-- dome.svg -->
<path d="M213.5 939.5 C205.5 939.1 207.5 938.2 205.2 935.4 C202.9 932.6 202.2 930.8 201.9 925.5 C201.6 920.2 202.3 915.5 203.6 908.9 C204.9 902.3 204.9 899.0 208.5 892.4 C212.1 885.8 215.2 882.8 221.8 875.9 C228.4 869.0 233.7 867.0 241.6 857.7 C249.5 848.4 255.5 840.2 261.4 829.6 C267.3 819.0 267.5 814.2 271.3 804.8 C275.1 795.4 276.7 792.7 280.2 782.7 C283.7 772.7 285.8 765.9 289.0 755.0 C292.2 744.1 293.0 738.2 296.0 728.0 C299.0 717.8 300.1 714.6 304.1 704.2 C308.1 693.8 310.9 686.6 316.1 676.2 C321.3 665.8 324.2 660.4 330.2 652.0 C336.2 643.6 338.2 641.2 346.2 634.0 C354.2 626.8 359.4 621.6 370.2 616.0 C381.0 610.4 388.0 608.7 400.0 606.0 C412.0 603.3 418.2 603.1 430.0 602.5 C441.8 601.9 445.4 601.1 459.0 603.2 C472.6 605.3 486.3 608.7 498.0 613.0 C509.7 617.3 509.9 618.8 517.7 624.7 C525.5 630.6 530.2 634.5 537.2 642.3 C544.2 650.1 546.9 654.0 552.8 663.8 C558.7 673.5 562.2 680.1 566.5 691.0 C570.8 701.9 571.1 707.6 574.3 718.4 C577.5 729.2 578.4 732.7 582.5 745.0 C586.6 757.3 589.4 764.8 595.0 779.8 C600.6 794.8 603.6 804.5 610.4 820.0 C617.2 835.5 620.3 843.7 629.0 857.4 C637.7 871.1 645.9 877.9 654.0 888.4 C662.1 898.9 665.6 902.1 669.4 910.0 C673.2 917.9 673.3 922.6 673.0 928.0 C672.7 933.4 674.6 935.2 668.0 937.0 C661.4 938.8 693.6 937.1 640.0 937.0 C586.4 936.9 479.0 936.2 400.0 936.3 C321.0 936.4 282.3 936.9 245.0 937.5 C207.7 938.1 221.5 939.9 213.5 939.5 Z" fill="#d2d8e9"/>
<rect x="193" y="929.5" width="12" height="6" fill="#f2d39c"/>
<rect x="205" y="929.5" width="470" height="6" fill="#f2d39c" opacity="0.45"/>
<path d="M207.9 935.9 Q205.0 935.0 206.2 932.3 L207.3 929.7 Q208.5 927.0 211.1 925.4 L232.4 912.6 Q235.0 911.0 237.6 909.5 L258.8 897.2 Q261.4 895.7 263.9 897.4 L272.5 903.3 Q275.0 905.0 277.7 906.3 L287.3 910.7 Q290.0 912.0 291.6 909.5 L300.4 895.5 Q302.0 893.0 303.6 890.5 L324.4 857.5 Q326.0 855.0 326.6 852.1 L332.4 822.9 Q333.0 820.0 333.4 817.0 L336.6 791.0 Q337.0 788.0 338.6 785.5 L345.4 774.5 Q347.0 772.0 347.6 769.1 L351.4 750.9 Q352.0 748.0 354.3 746.1 L361.7 739.9 Q364.0 738.0 364.6 735.1 L368.4 714.9 Q369.0 712.0 369.4 709.0 L371.6 691.0 Q372.0 688.0 374.1 685.9 L383.9 676.1 Q386.0 674.0 388.6 672.5 L400.4 665.5 Q403.0 664.0 406.0 664.0 L434.0 664.0 Q437.0 664.0 439.9 664.9 L453.1 669.1 Q456.0 670.0 458.3 672.0 L460.7 674.0 Q463.0 676.0 465.0 678.2 L475.0 688.8 Q477.0 691.0 479.7 692.3 L486.3 695.7 Q489.0 697.0 491.5 698.6 L509.5 710.4 Q512.0 712.0 513.1 714.8 L523.9 742.2 Q525.0 745.0 525.8 747.9 L531.2 769.1 Q532.0 772.0 532.6 774.9 L534.4 785.1 Q535.0 788.0 535.3 791.0 L537.7 814.0 Q538.0 817.0 538.2 820.0 L539.8 848.0 Q540.0 851.0 541.8 853.4 L546.2 859.6 Q548.0 862.0 549.9 864.3 L563.1 879.7 Q565.0 882.0 566.8 884.4 L573.2 892.6 Q575.0 895.0 577.1 897.1 L589.9 909.9 Q592.0 912.0 594.4 913.8 L602.6 920.2 Q605.0 922.0 607.8 923.0 L627.2 930.0 Q630.0 931.0 633.0 931.4 L647.0 933.6 Q650.0 934.0 653.0 934.3 L665.0 935.7 Q668.0 936.0 665.0 936.1 L663.0 936.2 Q660.0 936.3 657.0 936.3 L403.0 936.3 Q400.0 936.3 397.0 936.3 L218.0 938.0 Q215.0 938.0 212.1 937.1 Z" fill="#d5cec7"/>
<path d="M248.0 931.0 C250.7 929.1 262.1 924.0 268.0 922.0 C273.9 920.0 285.3 918.9 292.0 916.0 C298.7 913.1 311.9 906.4 318.0 900.0 C324.1 893.6 334.7 877.3 338.0 868.0 C341.3 858.7 341.9 839.7 343.0 830.0 C344.1 820.3 345.1 803.0 346.0 795.0 C346.9 787.0 348.7 776.3 350.0 770.0 C351.3 763.7 354.5 754.1 356.0 748.0 C357.5 741.9 359.4 729.7 361.0 724.0 C362.6 718.3 365.5 709.3 368.0 705.0 C370.5 700.7 375.5 694.3 380.0 692.0 C384.5 689.7 395.3 688.4 402.0 688.0 C408.7 687.6 423.6 688.3 430.0 689.0 C436.4 689.7 444.7 691.4 450.0 693.0 C455.3 694.6 465.1 698.2 470.0 701.0 C474.9 703.8 482.7 709.5 487.0 714.0 C491.3 718.5 498.9 728.9 502.0 735.0 C505.1 741.1 508.4 752.7 510.0 760.0 C511.6 767.3 512.9 782.0 514.0 790.0 C515.1 798.0 516.8 812.0 518.0 820.0 C519.2 828.0 521.1 843.6 523.0 850.0 C524.9 856.4 528.5 862.8 532.0 868.0 C535.5 873.2 543.7 883.7 549.0 889.0 C554.3 894.3 566.5 903.7 572.0 908.0 C577.5 912.3 586.3 918.1 590.0 921.0 C593.7 923.9 598.4 928.0 600.0 930.0 C601.6 932.0 648.9 935.2 602.0 936.0 C555.1 936.8 295.2 936.7 248.0 936.0 C200.8 935.3 245.3 932.9 248.0 931.0 Z" fill="#f3d5a2"/>
<ellipse cx="261.3" cy="872.1" rx="4.0" ry="1.55" transform="rotate(-123.7 261.3 872.1)" fill="#d8d2e3" stroke="#2f2a32" stroke-width="0.85"/>
<ellipse cx="264.2" cy="870.1" rx="4.0" ry="1.55" transform="rotate(-123.7 264.2 870.1)" fill="#d8d2e3" stroke="#2f2a32" stroke-width="0.85"/>
<ellipse cx="267.2" cy="868.1" rx="4.0" ry="1.55" transform="rotate(-123.7 267.2 868.1)" fill="#d8d2e3" stroke="#2f2a32" stroke-width="0.85"/>
<ellipse cx="270.1" cy="866.2" rx="4.0" ry="1.55" transform="rotate(-123.7 270.1 866.2)" fill="#d8d2e3" stroke="#2f2a32" stroke-width="0.85"/>
<ellipse cx="273.1" cy="864.2" rx="4.0" ry="1.55" transform="rotate(-123.7 273.1 864.2)" fill="#d8d2e3" stroke="#2f2a32" stroke-width="0.85"/>
<ellipse cx="276.0" cy="862.2" rx="4.0" ry="1.55" transform="rotate(-123.7 276.0 862.2)" fill="#d8d2e3" stroke="#2f2a32" stroke-width="0.85"/>
<ellipse cx="279.0" cy="860.3" rx="4.0" ry="1.55" transform="rotate(-123.7 279.0 860.3)" fill="#d8d2e3" stroke="#2f2a32" stroke-width="0.85"/>
<ellipse cx="283.3" cy="856.0" rx="4.0" ry="1.55" transform="rotate(-146.3 283.3 856.0)" fill="#d8d2e3" stroke="#2f2a32" stroke-width="0.85"/>
<ellipse cx="285.2" cy="853.0" rx="4.0" ry="1.55" transform="rotate(-146.3 285.2 853.0)" fill="#d8d2e3" stroke="#2f2a32" stroke-width="0.85"/>
<ellipse cx="287.2" cy="850.1" rx="4.0" ry="1.55" transform="rotate(-146.3 287.2 850.1)" fill="#d8d2e3" stroke="#2f2a32" stroke-width="0.85"/>
<ellipse cx="289.2" cy="847.1" rx="4.0" ry="1.55" transform="rotate(-146.3 289.2 847.1)" fill="#d8d2e3" stroke="#2f2a32" stroke-width="0.85"/>
<ellipse cx="291.1" cy="844.2" rx="4.0" ry="1.55" transform="rotate(-146.3 291.1 844.2)" fill="#d8d2e3" stroke="#2f2a32" stroke-width="0.85"/>
<ellipse cx="293.1" cy="841.2" rx="4.0" ry="1.55" transform="rotate(-146.3 293.1 841.2)" fill="#d8d2e3" stroke="#2f2a32" stroke-width="0.85"/>
<ellipse cx="295.1" cy="838.3" rx="4.0" ry="1.55" transform="rotate(-146.3 295.1 838.3)" fill="#d8d2e3" stroke="#2f2a32" stroke-width="0.85"/>
<ellipse cx="297.3" cy="832.4" rx="4.0" ry="1.55" transform="rotate(-170.2 297.3 832.4)" fill="#d8d2e3" stroke="#2f2a32" stroke-width="0.85"/>
<ellipse cx="297.9" cy="828.9" rx="4.0" ry="1.55" transform="rotate(-170.2 297.9 828.9)" fill="#d8d2e3" stroke="#2f2a32" stroke-width="0.85"/>
<ellipse cx="298.5" cy="825.4" rx="4.0" ry="1.55" transform="rotate(-170.2 298.5 825.4)" fill="#d8d2e3" stroke="#2f2a32" stroke-width="0.85"/>
<ellipse cx="299.1" cy="821.9" rx="4.0" ry="1.55" transform="rotate(-170.2 299.1 821.9)" fill="#d8d2e3" stroke="#2f2a32" stroke-width="0.85"/>
<ellipse cx="299.8" cy="818.4" rx="4.0" ry="1.55" transform="rotate(-170.2 299.8 818.4)" fill="#d8d2e3" stroke="#2f2a32" stroke-width="0.85"/>
<ellipse cx="300.4" cy="814.9" rx="4.0" ry="1.55" transform="rotate(-170.2 300.4 814.9)" fill="#d8d2e3" stroke="#2f2a32" stroke-width="0.85"/>
<ellipse cx="301.0" cy="811.4" rx="4.0" ry="1.55" transform="rotate(-170.2 301.0 811.4)" fill="#d8d2e3" stroke="#2f2a32" stroke-width="0.85"/>
<ellipse cx="301.8" cy="804.7" rx="4.0" ry="1.55" transform="rotate(-177.2 301.8 804.7)" fill="#d8d2e3" stroke="#2f2a32" stroke-width="0.85"/>
<ellipse cx="301.9" cy="801.2" rx="4.0" ry="1.55" transform="rotate(-177.2 301.9 801.2)" fill="#d8d2e3" stroke="#2f2a32" stroke-width="0.85"/>
<ellipse cx="302.1" cy="797.7" rx="4.0" ry="1.55" transform="rotate(-177.2 302.1 797.7)" fill="#d8d2e3" stroke="#2f2a32" stroke-width="0.85"/>
<ellipse cx="302.3" cy="794.1" rx="4.0" ry="1.55" transform="rotate(-177.2 302.3 794.1)" fill="#d8d2e3" stroke="#2f2a32" stroke-width="0.85"/>
<ellipse cx="302.4" cy="790.6" rx="4.0" ry="1.55" transform="rotate(-177.2 302.4 790.6)" fill="#d8d2e3" stroke="#2f2a32" stroke-width="0.85"/>
<ellipse cx="302.6" cy="787.0" rx="4.0" ry="1.55" transform="rotate(-177.2 302.6 787.0)" fill="#d8d2e3" stroke="#2f2a32" stroke-width="0.85"/>
<ellipse cx="302.8" cy="783.5" rx="4.0" ry="1.55" transform="rotate(-177.2 302.8 783.5)" fill="#d8d2e3" stroke="#2f2a32" stroke-width="0.85"/>
<ellipse cx="303.0" cy="779.9" rx="4.0" ry="1.55" transform="rotate(-177.2 303.0 779.9)" fill="#d8d2e3" stroke="#2f2a32" stroke-width="0.85"/>
<ellipse cx="319.8" cy="723.1" rx="4.0" ry="1.55" transform="rotate(-164.4 319.8 723.1)" fill="#d8d2e3" stroke="#2f2a32" stroke-width="0.85"/>
<ellipse cx="320.8" cy="719.7" rx="4.0" ry="1.55" transform="rotate(-164.4 320.8 719.7)" fill="#d8d2e3" stroke="#2f2a32" stroke-width="0.85"/>
<ellipse cx="321.7" cy="716.3" rx="4.0" ry="1.55" transform="rotate(-164.4 321.7 716.3)" fill="#d8d2e3" stroke="#2f2a32" stroke-width="0.85"/>
<ellipse cx="322.7" cy="712.9" rx="4.0" ry="1.55" transform="rotate(-164.4 322.7 712.9)" fill="#d8d2e3" stroke="#2f2a32" stroke-width="0.85"/>
<ellipse cx="323.7" cy="709.5" rx="4.0" ry="1.55" transform="rotate(-164.4 323.7 709.5)" fill="#d8d2e3" stroke="#2f2a32" stroke-width="0.85"/>
<ellipse cx="324.6" cy="706.0" rx="4.0" ry="1.55" transform="rotate(-164.4 324.6 706.0)" fill="#d8d2e3" stroke="#2f2a32" stroke-width="0.85"/>
<ellipse cx="327.0" cy="698.0" rx="4.0" ry="1.55" transform="rotate(-163.6 327.0 698.0)" fill="#d8d2e3" stroke="#2f2a32" stroke-width="0.85"/>
<ellipse cx="328.0" cy="694.6" rx="4.0" ry="1.55" transform="rotate(-163.6 328.0 694.6)" fill="#d8d2e3" stroke="#2f2a32" stroke-width="0.85"/>
<ellipse cx="329.0" cy="691.2" rx="4.0" ry="1.55" transform="rotate(-163.6 329.0 691.2)" fill="#d8d2e3" stroke="#2f2a32" stroke-width="0.85"/>
<ellipse cx="330.0" cy="687.8" rx="4.0" ry="1.55" transform="rotate(-163.6 330.0 687.8)" fill="#d8d2e3" stroke="#2f2a32" stroke-width="0.85"/>
<ellipse cx="331.0" cy="684.4" rx="4.0" ry="1.55" transform="rotate(-163.6 331.0 684.4)" fill="#d8d2e3" stroke="#2f2a32" stroke-width="0.85"/>
<ellipse cx="332.0" cy="681.0" rx="4.0" ry="1.55" transform="rotate(-163.6 332.0 681.0)" fill="#d8d2e3" stroke="#2f2a32" stroke-width="0.85"/>
<ellipse cx="333.0" cy="677.6" rx="4.0" ry="1.55" transform="rotate(-163.6 333.0 677.6)" fill="#d8d2e3" stroke="#2f2a32" stroke-width="0.85"/>
<ellipse cx="341.4" cy="656.5" rx="4.0" ry="1.55" transform="rotate(-139.6 341.4 656.5)" fill="#d8d2e3" stroke="#2f2a32" stroke-width="0.85"/>
<ellipse cx="343.7" cy="653.8" rx="4.0" ry="1.55" transform="rotate(-139.6 343.7 653.8)" fill="#d8d2e3" stroke="#2f2a32" stroke-width="0.85"/>
<ellipse cx="346.0" cy="651.1" rx="4.0" ry="1.55" transform="rotate(-139.6 346.0 651.1)" fill="#d8d2e3" stroke="#2f2a32" stroke-width="0.85"/>
<ellipse cx="348.3" cy="648.4" rx="4.0" ry="1.55" transform="rotate(-139.6 348.3 648.4)" fill="#d8d2e3" stroke="#2f2a32" stroke-width="0.85"/>
<ellipse cx="350.6" cy="645.7" rx="4.0" ry="1.55" transform="rotate(-139.6 350.6 645.7)" fill="#d8d2e3" stroke="#2f2a32" stroke-width="0.85"/>
<ellipse cx="352.9" cy="643.0" rx="4.0" ry="1.55" transform="rotate(-139.6 352.9 643.0)" fill="#d8d2e3" stroke="#2f2a32" stroke-width="0.85"/>
<ellipse cx="355.2" cy="640.3" rx="4.0" ry="1.55" transform="rotate(-139.6 355.2 640.3)" fill="#d8d2e3" stroke="#2f2a32" stroke-width="0.85"/>
<ellipse cx="357.5" cy="637.6" rx="4.0" ry="1.55" transform="rotate(-139.6 357.5 637.6)" fill="#d8d2e3" stroke="#2f2a32" stroke-width="0.85"/>
<ellipse cx="367.1" cy="634.6" rx="4.0" ry="1.55" transform="rotate(-118.2 367.1 634.6)" fill="#d8d2e3" stroke="#2f2a32" stroke-width="0.85"/>
<ellipse cx="370.2" cy="632.9" rx="4.0" ry="1.55" transform="rotate(-118.2 370.2 632.9)" fill="#d8d2e3" stroke="#2f2a32" stroke-width="0.85"/>
<ellipse cx="373.3" cy="631.2" rx="4.0" ry="1.55" transform="rotate(-118.2 373.3 631.2)" fill="#d8d2e3" stroke="#2f2a32" stroke-width="0.85"/>
<ellipse cx="376.4" cy="629.5" rx="4.0" ry="1.55" transform="rotate(-118.2 376.4 629.5)" fill="#d8d2e3" stroke="#2f2a32" stroke-width="0.85"/>
<ellipse cx="379.6" cy="627.8" rx="4.0" ry="1.55" transform="rotate(-118.2 379.6 627.8)" fill="#d8d2e3" stroke="#2f2a32" stroke-width="0.85"/>
<ellipse cx="382.7" cy="626.2" rx="4.0" ry="1.55" transform="rotate(-118.2 382.7 626.2)" fill="#d8d2e3" stroke="#2f2a32" stroke-width="0.85"/>
<ellipse cx="385.8" cy="624.5" rx="4.0" ry="1.55" transform="rotate(-118.2 385.8 624.5)" fill="#d8d2e3" stroke="#2f2a32" stroke-width="0.85"/>
<ellipse cx="389.0" cy="622.8" rx="4.0" ry="1.55" transform="rotate(-118.2 389.0 622.8)" fill="#d8d2e3" stroke="#2f2a32" stroke-width="0.85"/>
<ellipse cx="392.1" cy="621.1" rx="4.0" ry="1.55" transform="rotate(-118.2 392.1 621.1)" fill="#d8d2e3" stroke="#2f2a32" stroke-width="0.85"/>
<ellipse cx="395.2" cy="619.4" rx="4.0" ry="1.55" transform="rotate(-118.2 395.2 619.4)" fill="#d8d2e3" stroke="#2f2a32" stroke-width="0.85"/>
<ellipse cx="405.1" cy="616.6" rx="4.0" ry="1.55" transform="rotate(-90.0 405.1 616.6)" fill="#d8d2e3" stroke="#2f2a32" stroke-width="0.85"/>
<ellipse cx="408.6" cy="616.6" rx="4.0" ry="1.55" transform="rotate(-90.0 408.6 616.6)" fill="#d8d2e3" stroke="#2f2a32" stroke-width="0.85"/>
<ellipse cx="412.1" cy="616.6" rx="4.0" ry="1.55" transform="rotate(-90.0 412.1 616.6)" fill="#d8d2e3" stroke="#2f2a32" stroke-width="0.85"/>
<ellipse cx="415.7" cy="616.6" rx="4.0" ry="1.55" transform="rotate(-90.0 415.7 616.6)" fill="#d8d2e3" stroke="#2f2a32" stroke-width="0.85"/>
<ellipse cx="419.2" cy="616.6" rx="4.0" ry="1.55" transform="rotate(-90.0 419.2 616.6)" fill="#d8d2e3" stroke="#2f2a32" stroke-width="0.85"/>
<ellipse cx="422.8" cy="616.6" rx="4.0" ry="1.55" transform="rotate(-90.0 422.8 616.6)" fill="#d8d2e3" stroke="#2f2a32" stroke-width="0.85"/>
<ellipse cx="426.4" cy="616.6" rx="4.0" ry="1.55" transform="rotate(-90.0 426.4 616.6)" fill="#d8d2e3" stroke="#2f2a32" stroke-width="0.85"/>
<ellipse cx="429.9" cy="616.6" rx="4.0" ry="1.55" transform="rotate(-90.0 429.9 616.6)" fill="#d8d2e3" stroke="#2f2a32" stroke-width="0.85"/>
<ellipse cx="433.4" cy="616.6" rx="4.0" ry="1.55" transform="rotate(-90.0 433.4 616.6)" fill="#d8d2e3" stroke="#2f2a32" stroke-width="0.85"/>
<ellipse cx="443.7" cy="618.9" rx="4.0" ry="1.55" transform="rotate(-73.1 443.7 618.9)" fill="#d8d2e3" stroke="#2f2a32" stroke-width="0.85"/>
<ellipse cx="447.1" cy="619.9" rx="4.0" ry="1.55" transform="rotate(-73.1 447.1 619.9)" fill="#d8d2e3" stroke="#2f2a32" stroke-width="0.85"/>
<ellipse cx="450.4" cy="620.9" rx="4.0" ry="1.55" transform="rotate(-73.1 450.4 620.9)" fill="#d8d2e3" stroke="#2f2a32" stroke-width="0.85"/>
<ellipse cx="453.8" cy="622.0" rx="4.0" ry="1.55" transform="rotate(-73.1 453.8 622.0)" fill="#d8d2e3" stroke="#2f2a32" stroke-width="0.85"/>
<ellipse cx="457.2" cy="623.0" rx="4.0" ry="1.55" transform="rotate(-73.1 457.2 623.0)" fill="#d8d2e3" stroke="#2f2a32" stroke-width="0.85"/>
<ellipse cx="460.6" cy="624.0" rx="4.0" ry="1.55" transform="rotate(-73.1 460.6 624.0)" fill="#d8d2e3" stroke="#2f2a32" stroke-width="0.85"/>
<ellipse cx="464.0" cy="625.1" rx="4.0" ry="1.55" transform="rotate(-73.1 464.0 625.1)" fill="#d8d2e3" stroke="#2f2a32" stroke-width="0.85"/>
<ellipse cx="467.4" cy="626.1" rx="4.0" ry="1.55" transform="rotate(-73.1 467.4 626.1)" fill="#d8d2e3" stroke="#2f2a32" stroke-width="0.85"/>
<ellipse cx="470.8" cy="627.1" rx="4.0" ry="1.55" transform="rotate(-73.1 470.8 627.1)" fill="#d8d2e3" stroke="#2f2a32" stroke-width="0.85"/>
<ellipse cx="524.3" cy="671.6" rx="4.0" ry="1.55" transform="rotate(-31.1 524.3 671.6)" fill="#d8d2e3" stroke="#2f2a32" stroke-width="0.85"/>
<ellipse cx="526.2" cy="674.6" rx="4.0" ry="1.55" transform="rotate(-31.1 526.2 674.6)" fill="#d8d2e3" stroke="#2f2a32" stroke-width="0.85"/>
<ellipse cx="528.0" cy="677.7" rx="4.0" ry="1.55" transform="rotate(-31.1 528.0 677.7)" fill="#d8d2e3" stroke="#2f2a32" stroke-width="0.85"/>
<ellipse cx="529.8" cy="680.7" rx="4.0" ry="1.55" transform="rotate(-31.1 529.8 680.7)" fill="#d8d2e3" stroke="#2f2a32" stroke-width="0.85"/>
<ellipse cx="531.7" cy="683.7" rx="4.0" ry="1.55" transform="rotate(-31.1 531.7 683.7)" fill="#d8d2e3" stroke="#2f2a32" stroke-width="0.85"/>
<ellipse cx="533.5" cy="686.8" rx="4.0" ry="1.55" transform="rotate(-31.1 533.5 686.8)" fill="#d8d2e3" stroke="#2f2a32" stroke-width="0.85"/>
<ellipse cx="535.3" cy="689.8" rx="4.0" ry="1.55" transform="rotate(-31.1 535.3 689.8)" fill="#d8d2e3" stroke="#2f2a32" stroke-width="0.85"/>
<ellipse cx="537.2" cy="692.9" rx="4.0" ry="1.55" transform="rotate(-31.1 537.2 692.9)" fill="#d8d2e3" stroke="#2f2a32" stroke-width="0.85"/>
<ellipse cx="539.0" cy="695.9" rx="4.0" ry="1.55" transform="rotate(-31.1 539.0 695.9)" fill="#d8d2e3" stroke="#2f2a32" stroke-width="0.85"/>
<ellipse cx="541.3" cy="705.0" rx="4.0" ry="1.55" transform="rotate(-20.0 541.3 705.0)" fill="#d8d2e3" stroke="#2f2a32" stroke-width="0.85"/>
<ellipse cx="542.6" cy="708.3" rx="4.0" ry="1.55" transform="rotate(-20.0 542.6 708.3)" fill="#d8d2e3" stroke="#2f2a32" stroke-width="0.85"/>
<ellipse cx="543.8" cy="711.7" rx="4.0" ry="1.55" transform="rotate(-20.0 543.8 711.7)" fill="#d8d2e3" stroke="#2f2a32" stroke-width="0.85"/>
<ellipse cx="545.0" cy="715.0" rx="4.0" ry="1.55" transform="rotate(-20.0 545.0 715.0)" fill="#d8d2e3" stroke="#2f2a32" stroke-width="0.85"/>
<ellipse cx="546.2" cy="718.3" rx="4.0" ry="1.55" transform="rotate(-20.0 546.2 718.3)" fill="#d8d2e3" stroke="#2f2a32" stroke-width="0.85"/>
<ellipse cx="547.4" cy="721.7" rx="4.0" ry="1.55" transform="rotate(-20.0 547.4 721.7)" fill="#d8d2e3" stroke="#2f2a32" stroke-width="0.85"/>
<ellipse cx="548.6" cy="725.0" rx="4.0" ry="1.55" transform="rotate(-20.0 548.6 725.0)" fill="#d8d2e3" stroke="#2f2a32" stroke-width="0.85"/>
<ellipse cx="549.8" cy="728.3" rx="4.0" ry="1.55" transform="rotate(-20.0 549.8 728.3)" fill="#d8d2e3" stroke="#2f2a32" stroke-width="0.85"/>
<ellipse cx="551.0" cy="731.7" rx="4.0" ry="1.55" transform="rotate(-20.0 551.0 731.7)" fill="#d8d2e3" stroke="#2f2a32" stroke-width="0.85"/>
<ellipse cx="553.3" cy="740.9" rx="4.0" ry="1.55" transform="rotate(-14.4 553.3 740.9)" fill="#d8d2e3" stroke="#2f2a32" stroke-width="0.85"/>
<ellipse cx="554.1" cy="744.3" rx="4.0" ry="1.55" transform="rotate(-14.4 554.1 744.3)" fill="#d8d2e3" stroke="#2f2a32" stroke-width="0.85"/>
<ellipse cx="555.0" cy="747.8" rx="4.0" ry="1.55" transform="rotate(-14.4 555.0 747.8)" fill="#d8d2e3" stroke="#2f2a32" stroke-width="0.85"/>
<ellipse cx="555.9" cy="751.2" rx="4.0" ry="1.55" transform="rotate(-14.4 555.9 751.2)" fill="#d8d2e3" stroke="#2f2a32" stroke-width="0.85"/>
<ellipse cx="556.8" cy="754.7" rx="4.0" ry="1.55" transform="rotate(-14.4 556.8 754.7)" fill="#d8d2e3" stroke="#2f2a32" stroke-width="0.85"/>
<ellipse cx="557.7" cy="758.1" rx="4.0" ry="1.55" transform="rotate(-14.4 557.7 758.1)" fill="#d8d2e3" stroke="#2f2a32" stroke-width="0.85"/>
<ellipse cx="558.6" cy="761.5" rx="4.0" ry="1.55" transform="rotate(-14.4 558.6 761.5)" fill="#d8d2e3" stroke="#2f2a32" stroke-width="0.85"/>
<ellipse cx="559.4" cy="765.0" rx="4.0" ry="1.55" transform="rotate(-14.4 559.4 765.0)" fill="#d8d2e3" stroke="#2f2a32" stroke-width="0.85"/>
<ellipse cx="560.3" cy="768.4" rx="4.0" ry="1.55" transform="rotate(-14.4 560.3 768.4)" fill="#d8d2e3" stroke="#2f2a32" stroke-width="0.85"/>
<ellipse cx="561.0" cy="782.1" rx="4.0" ry="1.55" transform="rotate(-13.1 561.0 782.1)" fill="#d8d2e3" stroke="#2f2a32" stroke-width="0.85"/>
<ellipse cx="561.8" cy="785.6" rx="4.0" ry="1.55" transform="rotate(-13.1 561.8 785.6)" fill="#d8d2e3" stroke="#2f2a32" stroke-width="0.85"/>
<ellipse cx="562.6" cy="789.0" rx="4.0" ry="1.55" transform="rotate(-13.1 562.6 789.0)" fill="#d8d2e3" stroke="#2f2a32" stroke-width="0.85"/>
<ellipse cx="563.4" cy="792.5" rx="4.0" ry="1.55" transform="rotate(-13.1 563.4 792.5)" fill="#d8d2e3" stroke="#2f2a32" stroke-width="0.85"/>
<ellipse cx="564.2" cy="796.0" rx="4.0" ry="1.55" transform="rotate(-13.1 564.2 796.0)" fill="#d8d2e3" stroke="#2f2a32" stroke-width="0.85"/>
<ellipse cx="565.0" cy="799.4" rx="4.0" ry="1.55" transform="rotate(-13.1 565.0 799.4)" fill="#d8d2e3" stroke="#2f2a32" stroke-width="0.85"/>
<ellipse cx="565.8" cy="802.9" rx="4.0" ry="1.55" transform="rotate(-13.1 565.8 802.9)" fill="#d8d2e3" stroke="#2f2a32" stroke-width="0.85"/>
<ellipse cx="566.6" cy="806.3" rx="4.0" ry="1.55" transform="rotate(-13.1 566.6 806.3)" fill="#d8d2e3" stroke="#2f2a32" stroke-width="0.85"/>
<ellipse cx="567.8" cy="814.7" rx="4.0" ry="1.55" transform="rotate(-7.4 567.8 814.7)" fill="#d8d2e3" stroke="#2f2a32" stroke-width="0.85"/>
<ellipse cx="568.2" cy="818.3" rx="4.0" ry="1.55" transform="rotate(-7.4 568.2 818.3)" fill="#d8d2e3" stroke="#2f2a32" stroke-width="0.85"/>
<ellipse cx="568.7" cy="821.8" rx="4.0" ry="1.55" transform="rotate(-7.4 568.7 821.8)" fill="#d8d2e3" stroke="#2f2a32" stroke-width="0.85"/>
<ellipse cx="569.1" cy="825.3" rx="4.0" ry="1.55" transform="rotate(-7.4 569.1 825.3)" fill="#d8d2e3" stroke="#2f2a32" stroke-width="0.85"/>
<ellipse cx="569.6" cy="828.8" rx="4.0" ry="1.55" transform="rotate(-7.4 569.6 828.8)" fill="#d8d2e3" stroke="#2f2a32" stroke-width="0.85"/>
<ellipse cx="570.1" cy="832.3" rx="4.0" ry="1.55" transform="rotate(-7.4 570.1 832.3)" fill="#d8d2e3" stroke="#2f2a32" stroke-width="0.85"/>
<ellipse cx="570.5" cy="835.9" rx="4.0" ry="1.55" transform="rotate(-7.4 570.5 835.9)" fill="#d8d2e3" stroke="#2f2a32" stroke-width="0.85"/>
<ellipse cx="571.0" cy="839.4" rx="4.0" ry="1.55" transform="rotate(-7.4 571.0 839.4)" fill="#d8d2e3" stroke="#2f2a32" stroke-width="0.85"/>
<ellipse cx="573.3" cy="844.1" rx="4.0" ry="1.55" transform="rotate(-39.6 573.3 844.1)" fill="#d8d2e3" stroke="#2f2a32" stroke-width="0.85"/>
<ellipse cx="575.6" cy="846.9" rx="4.0" ry="1.55" transform="rotate(-39.6 575.6 846.9)" fill="#d8d2e3" stroke="#2f2a32" stroke-width="0.85"/>
<ellipse cx="577.9" cy="849.6" rx="4.0" ry="1.55" transform="rotate(-39.6 577.9 849.6)" fill="#d8d2e3" stroke="#2f2a32" stroke-width="0.85"/>
<ellipse cx="580.1" cy="852.3" rx="4.0" ry="1.55" transform="rotate(-39.6 580.1 852.3)" fill="#d8d2e3" stroke="#2f2a32" stroke-width="0.85"/>
<ellipse cx="582.4" cy="855.1" rx="4.0" ry="1.55" transform="rotate(-39.6 582.4 855.1)" fill="#d8d2e3" stroke="#2f2a32" stroke-width="0.85"/>
<ellipse cx="584.6" cy="857.8" rx="4.0" ry="1.55" transform="rotate(-39.6 584.6 857.8)" fill="#d8d2e3" stroke="#2f2a32" stroke-width="0.85"/>
<ellipse cx="586.9" cy="860.5" rx="4.0" ry="1.55" transform="rotate(-39.6 586.9 860.5)" fill="#d8d2e3" stroke="#2f2a32" stroke-width="0.85"/>
<ellipse cx="592.1" cy="865.5" rx="4.0" ry="1.55" transform="rotate(-54.1 592.1 865.5)" fill="#d8d2e3" stroke="#2f2a32" stroke-width="0.85"/>
<ellipse cx="595.0" cy="867.6" rx="4.0" ry="1.55" transform="rotate(-54.1 595.0 867.6)" fill="#d8d2e3" stroke="#2f2a32" stroke-width="0.85"/>
<ellipse cx="597.9" cy="869.7" rx="4.0" ry="1.55" transform="rotate(-54.1 597.9 869.7)" fill="#d8d2e3" stroke="#2f2a32" stroke-width="0.85"/>
<ellipse cx="600.7" cy="871.7" rx="4.0" ry="1.55" transform="rotate(-54.1 600.7 871.7)" fill="#d8d2e3" stroke="#2f2a32" stroke-width="0.85"/>
<ellipse cx="603.6" cy="873.8" rx="4.0" ry="1.55" transform="rotate(-54.1 603.6 873.8)" fill="#d8d2e3" stroke="#2f2a32" stroke-width="0.85"/>
<ellipse cx="606.5" cy="875.9" rx="4.0" ry="1.55" transform="rotate(-54.1 606.5 875.9)" fill="#d8d2e3" stroke="#2f2a32" stroke-width="0.85"/>
<ellipse cx="609.4" cy="878.0" rx="4.0" ry="1.55" transform="rotate(-54.1 609.4 878.0)" fill="#d8d2e3" stroke="#2f2a32" stroke-width="0.85"/>
<ellipse cx="613.9" cy="880.3" rx="4.0" ry="1.55" transform="rotate(-76.7 613.9 880.3)" fill="#d8d2e3" stroke="#2f2a32" stroke-width="0.85"/>
<ellipse cx="617.4" cy="881.1" rx="4.0" ry="1.55" transform="rotate(-76.7 617.4 881.1)" fill="#d8d2e3" stroke="#2f2a32" stroke-width="0.85"/>
<ellipse cx="620.9" cy="882.0" rx="4.0" ry="1.55" transform="rotate(-76.7 620.9 882.0)" fill="#d8d2e3" stroke="#2f2a32" stroke-width="0.85"/>
<ellipse cx="624.3" cy="882.8" rx="4.0" ry="1.55" transform="rotate(-76.7 624.3 882.8)" fill="#d8d2e3" stroke="#2f2a32" stroke-width="0.85"/>
<ellipse cx="627.8" cy="883.6" rx="4.0" ry="1.55" transform="rotate(-76.7 627.8 883.6)" fill="#d8d2e3" stroke="#2f2a32" stroke-width="0.85"/>
<ellipse cx="631.2" cy="884.4" rx="4.0" ry="1.55" transform="rotate(-76.7 631.2 884.4)" fill="#d8d2e3" stroke="#2f2a32" stroke-width="0.85"/>
<ellipse cx="634.7" cy="885.2" rx="4.0" ry="1.55" transform="rotate(-76.7 634.7 885.2)" fill="#d8d2e3" stroke="#2f2a32" stroke-width="0.85"/>
<ellipse cx="638.1" cy="886.1" rx="4.0" ry="1.55" transform="rotate(-76.7 638.1 886.1)" fill="#d8d2e3" stroke="#2f2a32" stroke-width="0.85"/>
<path d="M263.1 881.0 Q260.0 877.0 264.2 874.2 L279.8 863.8 Q284.0 861.0 287.1 864.9 L310.9 894.1 Q314.0 898.0 310.1 901.2 L294.9 913.8 Q291.0 917.0 287.9 913.0 Z" fill="#decada" stroke="#2e2a30" stroke-width="1.3" stroke-linejoin="round"/>
<path d="M288.1 863.8 Q284.0 861.0 286.8 856.8 L297.2 841.2 Q300.0 837.0 304.5 839.3 L336.5 855.7 Q341.0 858.0 338.1 862.1 L323.9 881.9 Q321.0 886.0 316.9 883.2 Z" fill="#decada" stroke="#2e2a30" stroke-width="1.3" stroke-linejoin="round"/>
<path d="M304.8 838.3 Q300.0 837.0 300.8 832.1 L304.2 812.9 Q305.0 808.0 309.8 809.4 L342.2 818.6 Q347.0 820.0 346.0 824.9 L342.0 843.1 Q341.0 848.0 336.2 846.7 Z" fill="#decada" stroke="#2e2a30" stroke-width="1.3" stroke-linejoin="round"/>
<path d="M310.0 808.5 Q305.0 808.0 305.2 803.0 L306.3 782.0 Q306.5 777.0 311.4 777.8 L345.1 783.2 Q350.0 784.0 349.5 789.0 L347.5 807.0 Q347.0 812.0 342.0 811.5 Z" fill="#decada" stroke="#2e2a30" stroke-width="1.3" stroke-linejoin="round"/>
<path d="M326.7 729.7 Q322.0 728.0 323.3 723.2 L327.7 707.8 Q329.0 703.0 333.9 704.0 L357.1 709.0 Q362.0 710.0 361.7 715.0 L360.3 737.0 Q360.0 742.0 355.3 740.3 Z" fill="#decada" stroke="#2e2a30" stroke-width="1.3" stroke-linejoin="round"/>
<path d="M334.4 702.6 Q329.5 701.5 330.9 696.7 L335.6 680.8 Q337.0 676.0 341.5 678.2 L365.0 689.3 Q369.5 691.5 367.5 696.1 L364.0 704.4 Q362.0 709.0 357.1 707.9 Z" fill="#decada" stroke="#2e2a30" stroke-width="1.3" stroke-linejoin="round"/>
<path d="M345.7 664.4 Q342.0 661.0 345.2 657.2 L358.8 641.3 Q362.0 637.5 364.8 641.6 L384.2 669.9 Q387.0 674.0 382.8 676.8 L373.2 683.2 Q369.0 686.0 365.3 682.6 Z" fill="#decada" stroke="#2e2a30" stroke-width="1.3" stroke-linejoin="round"/>
<path d="M368.6 643.3 Q366.0 639.0 370.4 636.6 L395.1 623.4 Q399.5 621.0 400.1 626.0 L403.1 653.5 Q403.7 658.5 400.1 661.9 L390.8 670.6 Q387.2 674.0 384.6 669.7 Z" fill="#decada" stroke="#2e2a30" stroke-width="1.3" stroke-linejoin="round"/>
<path d="M402.1 625.0 Q402.0 620.0 407.0 620.0 L431.5 620.0 Q436.5 620.0 436.5 625.0 L436.5 648.0 Q436.5 653.0 433.5 657.0 L428.0 664.0 Q425.0 668.0 420.0 668.0 L418.0 668.0 Q413.0 668.0 410.1 663.9 L405.4 657.1 Q402.5 653.0 402.4 648.0 Z" fill="#decada" stroke="#2e2a30" stroke-width="1.3" stroke-linejoin="round"/>
<path d="M438.8 626.0 Q439.0 621.0 443.8 622.5 L468.7 630.0 Q473.5 631.5 471.5 636.1 L458.0 667.4 Q456.0 672.0 451.2 670.5 L442.3 667.5 Q437.5 666.0 437.7 661.0 Z" fill="#decada" stroke="#2e2a30" stroke-width="1.3" stroke-linejoin="round"/>
<path d="M515.8 673.8 Q520.0 671.0 522.6 675.3 L534.9 695.7 Q537.5 700.0 532.9 701.9 L503.6 714.1 Q499.0 716.0 496.7 711.6 L489.3 697.4 Q487.0 693.0 491.2 690.2 Z" fill="#decada" stroke="#2e2a30" stroke-width="1.3" stroke-linejoin="round"/>
<path d="M532.4 704.9 Q537.0 703.0 538.7 707.7 L547.3 731.3 Q549.0 736.0 544.3 737.7 L513.7 748.3 Q509.0 750.0 507.3 745.3 L499.7 723.7 Q498.0 719.0 502.6 717.1 Z" fill="#decada" stroke="#2e2a30" stroke-width="1.3" stroke-linejoin="round"/>
<path d="M544.3 739.8 Q549.0 738.0 550.2 742.8 L556.8 768.2 Q558.0 773.0 553.0 773.2 L516.0 774.8 Q511.0 775.0 510.5 770.0 L509.5 758.0 Q509.0 753.0 513.7 751.2 Z" fill="#decada" stroke="#2e2a30" stroke-width="1.3" stroke-linejoin="round"/>
<path d="M552.0 780.7 Q557.0 780.0 558.1 784.9 L562.9 805.1 Q564.0 810.0 559.1 810.8 L523.9 816.2 Q519.0 817.0 518.3 812.1 L515.2 790.9 Q514.5 786.0 519.5 785.3 Z" fill="#decada" stroke="#2e2a30" stroke-width="1.3" stroke-linejoin="round"/>
<path d="M559.1 813.0 Q564.0 812.0 564.6 817.0 L567.4 838.0 Q568.0 843.0 563.1 844.0 L529.9 851.0 Q525.0 852.0 524.1 847.1 L520.4 825.9 Q519.5 821.0 524.4 820.0 Z" fill="#decada" stroke="#2e2a30" stroke-width="1.3" stroke-linejoin="round"/>
<path d="M563.6 845.3 Q568.0 843.0 571.2 846.9 L583.8 862.1 Q587.0 866.0 582.9 868.9 L558.1 886.1 Q554.0 889.0 550.6 885.3 L533.4 866.7 Q530.0 863.0 534.4 860.7 Z" fill="#decada" stroke="#2e2a30" stroke-width="1.3" stroke-linejoin="round"/>
<path d="M583.3 869.4 Q587.0 866.0 591.1 868.9 L606.4 880.1 Q610.5 883.0 607.4 886.9 L586.1 914.1 Q583.0 918.0 579.3 914.6 L560.7 897.4 Q557.0 894.0 560.7 890.6 Z" fill="#decada" stroke="#2e2a30" stroke-width="1.3" stroke-linejoin="round"/>
<path d="M608.9 887.7 Q610.5 883.0 615.4 884.2 L635.1 888.8 Q640.0 890.0 638.7 894.8 L630.3 927.2 Q629.0 932.0 624.2 930.5 L601.8 923.5 Q597.0 922.0 598.6 917.3 Z" fill="#decada" stroke="#2e2a30" stroke-width="1.3" stroke-linejoin="round"/>
<path d="M312.8 734.6 C315.0 733.5 318.3 732.5 321.0 732.5 C323.7 732.5 326.1 733.6 329.2 734.6 C332.3 735.6 336.0 737.2 339.4 738.7 C342.8 740.2 346.6 742.2 349.7 743.5 C352.8 744.8 356.2 745.1 357.9 746.2 C359.6 747.3 360.1 749.2 359.9 750.3 C359.7 751.4 358.4 752.7 356.5 753.0 C354.6 753.3 351.3 753.0 348.3 752.3 C345.3 751.6 341.9 750.3 338.7 748.9 C335.5 747.5 331.9 745.2 329.2 744.1 C326.5 743.0 324.0 741.9 322.3 742.1 C320.6 742.3 319.5 743.9 318.9 745.5 C318.3 747.1 318.1 750.2 318.9 751.7 C319.7 753.2 321.1 753.7 323.7 754.4 C326.3 755.1 332.3 755.0 334.6 755.8 C336.9 756.6 337.0 757.5 337.4 759.2 C337.8 760.9 335.8 764.4 336.7 766.0 C337.6 767.6 340.1 767.9 342.8 768.7 C345.5 769.5 350.8 769.8 353.1 770.8 C355.4 771.8 356.3 773.6 356.5 774.9 C356.7 776.1 356.8 777.7 354.5 778.3 C352.2 778.9 347.0 778.5 342.8 778.3 C338.6 778.1 333.8 777.7 329.2 777.0 C324.6 776.3 319.0 775.6 315.5 774.2 C312.0 772.8 309.8 771.2 308.0 768.7 C306.2 766.2 305.1 762.7 304.6 759.2 C304.2 755.7 304.7 750.9 305.3 747.6 C305.9 744.3 306.8 741.6 308.0 739.4 C309.2 737.2 310.6 735.8 312.8 734.6 Z" fill="#f2c5cb" stroke="#2e2a30" stroke-width="1.3" stroke-linejoin="round"/>
<path d="M472.3 634.8 C474.7 633.7 480.0 632.3 483.6 632.1 C487.2 631.9 490.7 632.4 494.1 633.6 C497.5 634.8 500.8 637.0 503.9 639.3 C507.0 641.6 510.4 644.6 512.9 647.6 C515.4 650.6 517.8 654.0 518.9 657.3 C520.0 660.5 520.1 664.3 519.7 667.1 C519.3 669.9 518.7 671.8 516.7 673.9 C514.7 676.0 511.0 678.0 507.6 679.9 C504.2 681.8 500.1 683.6 496.4 685.2 C492.6 686.8 488.2 688.5 485.1 689.7 C482.0 691.0 479.2 692.7 477.6 692.7 C476.0 692.7 475.1 690.8 475.3 689.7 C475.6 688.6 476.6 687.5 479.1 685.9 C481.6 684.3 486.6 681.9 490.3 679.9 C494.1 677.9 498.7 676.0 501.6 673.9 C504.5 671.8 506.6 669.2 507.6 667.1 C508.6 665.0 508.4 662.9 507.6 661.1 C506.9 659.4 504.9 657.5 503.1 656.6 C501.4 655.7 499.4 655.0 497.1 655.8 C494.9 656.5 492.0 659.2 489.6 661.1 C487.2 663.0 484.7 666.5 482.8 667.1 C480.9 667.7 479.8 665.9 478.3 664.8 C476.8 663.7 475.2 660.7 473.8 660.3 C472.4 659.9 470.9 661.0 470.0 662.6 C469.1 664.2 469.2 667.9 468.5 670.1 C467.8 672.4 466.8 675.1 465.5 676.1 C464.2 677.1 462.0 676.9 461.0 676.1 C460.0 675.4 459.2 674.5 459.5 671.6 C459.8 668.7 461.4 663.0 462.5 658.8 C463.6 654.5 465.2 649.5 466.3 646.1 C467.4 642.7 468.3 640.4 469.3 638.5 C470.3 636.6 469.9 635.9 472.3 634.8 Z" fill="#f2c5cb" stroke="#2e2a30" stroke-width="1.3" stroke-linejoin="round"/>
<rect x="414.3" y="661.5" width="8.5" height="7.5" rx="3.5" fill="#cfc8c4" stroke="#2e2a30" stroke-width="1"/>
<circle cx="418.6" cy="640.5" r="5" fill="#c8c4cc" stroke="#5a5560" stroke-width="1"/>
<circle cx="462" cy="637.9" r="5.5" fill="#c8c4cc" stroke="#5a5560" stroke-width="1"/>
<line x1="419.4" y1="620.5" x2="419.4" y2="627.5" stroke="#1a1a1a" stroke-width="1"/><path d="M419.4 632.0 L416.8 627.5 L422.0 627.5 Z" fill="#1a1a1a"/>
<line x1="418.2" y1="649.5" x2="418.2" y2="655.0" stroke="#1a1a1a" stroke-width="1"/><path d="M418.2 659.5 L415.6 655.0 L420.8 655.0 Z" fill="#1a1a1a"/>
<path d="M328.5 671 L337 668 L337.5 660.5 L341 665 Q352 672 362 680 Q369 685 372 691 L368 691.5 Q358 684 348 679 Q338 674 328.5 671 Z" fill="#8dcbd1" stroke="#3f8f98" stroke-width="0.9"/>
<path d="M388.7 699.6 Q397.9 689.6 407.9 684.6" fill="none" stroke="#4f9fae" stroke-width="3.1" stroke-linecap="round"/><path d="M388.7 699.6 Q400.9 705.4 412.0 706.5" fill="none" stroke="#4f9fae" stroke-width="3.1" stroke-linecap="round"/><path d="M388.7 699.6 Q389.4 711.9 392.8 721.5" fill="none" stroke="#4f9fae" stroke-width="3.1" stroke-linecap="round"/><path d="M388.7 699.6 Q381.5 708.9 373.7 714.7" fill="none" stroke="#4f9fae" stroke-width="3.1" stroke-linecap="round"/><path d="M388.7 699.6 Q387.9 688.8 387.3 680.0" fill="none" stroke="#4f9fae" stroke-width="3.1" stroke-linecap="round"/><path d="M388.7 699.6 Q379.7 698.5 372.5 697.0" fill="none" stroke="#4f9fae" stroke-width="3.1" stroke-linecap="round"/><path d="M388.7 699.6 Q397.9 689.6 407.9 684.6" fill="none" stroke="#8ccbe0" stroke-width="1.7" stroke-linecap="round"/><path d="M388.7 699.6 Q400.9 705.4 412.0 706.5" fill="none" stroke="#8ccbe0" stroke-width="1.7" stroke-linecap="round"/><path d="M388.7 699.6 Q389.4 711.9 392.8 721.5" fill="none" stroke="#8ccbe0" stroke-width="1.7" stroke-linecap="round"/><path d="M388.7 699.6 Q381.5 708.9 373.7 714.7" fill="none" stroke="#8ccbe0" stroke-width="1.7" stroke-linecap="round"/><path d="M388.7 699.6 Q387.9 688.8 387.3 680.0" fill="none" stroke="#8ccbe0" stroke-width="1.7" stroke-linecap="round"/><path d="M388.7 699.6 Q379.7 698.5 372.5 697.0" fill="none" stroke="#8ccbe0" stroke-width="1.7" stroke-linecap="round"/><line x1="388.7" y1="699.6" x2="401.1" y2="700.1" stroke="#a07a5a" stroke-width="1.3" stroke-linecap="round"/><line x1="388.7" y1="699.6" x2="399.0" y2="703.2" stroke="#4f9fae" stroke-width="1.3" stroke-linecap="round"/><line x1="388.7" y1="699.6" x2="395.1" y2="709.4" stroke="#4f9fae" stroke-width="1.3" stroke-linecap="round"/><line x1="388.7" y1="699.6" x2="390.3" y2="710.3" stroke="#a07a5a" stroke-width="1.3" stroke-linecap="round"/><line x1="388.7" y1="699.6" x2="386.2" y2="711.6" stroke="#4f9fae" stroke-width="1.3" stroke-linecap="round"/><line x1="388.7" y1="699.6" x2="381.6" y2="710.1" stroke="#4f9fae" stroke-width="1.3" stroke-linecap="round"/><line x1="388.7" y1="699.6" x2="378.4" y2="703.2" stroke="#a07a5a" stroke-width="1.3" stroke-linecap="round"/><line x1="388.7" y1="699.6" x2="376.9" y2="701.2" stroke="#4f9fae" stroke-width="1.3" stroke-linecap="round"/><line x1="388.7" y1="699.6" x2="379.0" y2="693.3" stroke="#4f9fae" stroke-width="1.3" stroke-linecap="round"/><line x1="388.7" y1="699.6" x2="380.7" y2="691.1" stroke="#a07a5a" stroke-width="1.3" stroke-linecap="round"/><line x1="388.7" y1="699.6" x2="384.8" y2="689.1" stroke="#4f9fae" stroke-width="1.3" stroke-linecap="round"/><line x1="388.7" y1="699.6" x2="391.1" y2="688.1" stroke="#4f9fae" stroke-width="1.3" stroke-linecap="round"/><line x1="388.7" y1="699.6" x2="395.0" y2="690.3" stroke="#a07a5a" stroke-width="1.3" stroke-linecap="round"/><line x1="388.7" y1="699.6" x2="398.8" y2="693.7" stroke="#4f9fae" stroke-width="1.3" stroke-linecap="round"/><circle cx="388.7" cy="699.6" r="9.3" fill="#8ccbe0" stroke="#4f9fae" stroke-width="0.9"/><ellipse cx="388.7" cy="700.1" rx="3.2" ry="2.0" transform="rotate(-50 388.7 700.1)" fill="#1f5c8c"/>
<path d="M455.7 699.6 Q449.6 687.4 440.7 680.5" fill="none" stroke="#4f9fae" stroke-width="3.1" stroke-linecap="round"/><path d="M455.7 699.6 Q443.3 698.5 433.8 702.4" fill="none" stroke="#4f9fae" stroke-width="3.1" stroke-linecap="round"/><path d="M455.7 699.6 Q453.5 709.2 447.5 714.7" fill="none" stroke="#4f9fae" stroke-width="3.1" stroke-linecap="round"/><path d="M455.7 699.6 Q464.6 708.8 468.0 718.8" fill="none" stroke="#4f9fae" stroke-width="3.1" stroke-linecap="round"/><path d="M455.7 699.6 Q466.2 697.7 473.5 692.8" fill="none" stroke="#4f9fae" stroke-width="3.1" stroke-linecap="round"/><path d="M455.7 699.6 Q460.1 688.4 461.2 678.5" fill="none" stroke="#4f9fae" stroke-width="3.1" stroke-linecap="round"/><path d="M455.7 699.6 Q449.6 687.4 440.7 680.5" fill="none" stroke="#8ccbe0" stroke-width="1.7" stroke-linecap="round"/><path d="M455.7 699.6 Q443.3 698.5 433.8 702.4" fill="none" stroke="#8ccbe0" stroke-width="1.7" stroke-linecap="round"/><path d="M455.7 699.6 Q453.5 709.2 447.5 714.7" fill="none" stroke="#8ccbe0" stroke-width="1.7" stroke-linecap="round"/><path d="M455.7 699.6 Q464.6 708.8 468.0 718.8" fill="none" stroke="#8ccbe0" stroke-width="1.7" stroke-linecap="round"/><path d="M455.7 699.6 Q466.2 697.7 473.5 692.8" fill="none" stroke="#8ccbe0" stroke-width="1.7" stroke-linecap="round"/><path d="M455.7 699.6 Q460.1 688.4 461.2 678.5" fill="none" stroke="#8ccbe0" stroke-width="1.7" stroke-linecap="round"/><line x1="455.7" y1="699.6" x2="467.1" y2="700.1" stroke="#a07a5a" stroke-width="1.3" stroke-linecap="round"/><line x1="455.7" y1="699.6" x2="466.4" y2="705.1" stroke="#4f9fae" stroke-width="1.3" stroke-linecap="round"/><line x1="455.7" y1="699.6" x2="462.4" y2="708.4" stroke="#4f9fae" stroke-width="1.3" stroke-linecap="round"/><line x1="455.7" y1="699.6" x2="458.5" y2="710.8" stroke="#a07a5a" stroke-width="1.3" stroke-linecap="round"/><line x1="455.7" y1="699.6" x2="452.1" y2="711.9" stroke="#4f9fae" stroke-width="1.3" stroke-linecap="round"/><line x1="455.7" y1="699.6" x2="447.2" y2="707.9" stroke="#4f9fae" stroke-width="1.3" stroke-linecap="round"/><line x1="455.7" y1="699.6" x2="445.6" y2="704.7" stroke="#a07a5a" stroke-width="1.3" stroke-linecap="round"/><line x1="455.7" y1="699.6" x2="444.9" y2="701.0" stroke="#4f9fae" stroke-width="1.3" stroke-linecap="round"/><line x1="455.7" y1="699.6" x2="445.3" y2="694.7" stroke="#4f9fae" stroke-width="1.3" stroke-linecap="round"/><line x1="455.7" y1="699.6" x2="447.5" y2="690.0" stroke="#a07a5a" stroke-width="1.3" stroke-linecap="round"/><line x1="455.7" y1="699.6" x2="453.1" y2="688.0" stroke="#4f9fae" stroke-width="1.3" stroke-linecap="round"/><line x1="455.7" y1="699.6" x2="457.3" y2="688.9" stroke="#4f9fae" stroke-width="1.3" stroke-linecap="round"/><line x1="455.7" y1="699.6" x2="462.2" y2="690.6" stroke="#a07a5a" stroke-width="1.3" stroke-linecap="round"/><line x1="455.7" y1="699.6" x2="467.2" y2="694.1" stroke="#4f9fae" stroke-width="1.3" stroke-linecap="round"/><circle cx="455.7" cy="699.6" r="9.3" fill="#8ccbe0" stroke="#4f9fae" stroke-width="0.9"/><ellipse cx="455.7" cy="700.1" rx="3.2" ry="2.0" transform="rotate(-50 455.7 700.1)" fill="#1f5c8c"/>
<path d="M469.5 738.5 Q463.1 733.8 460.0 728.0" fill="none" stroke="#6b6a50" stroke-width="3.1" stroke-linecap="round"/><path d="M469.5 738.5 Q462.5 741.3 457.0 744.0" fill="none" stroke="#6b6a50" stroke-width="3.1" stroke-linecap="round"/><path d="M469.5 738.5 Q467.8 745.6 465.0 751.0" fill="none" stroke="#6b6a50" stroke-width="3.1" stroke-linecap="round"/><path d="M469.5 738.5 Q473.7 744.1 478.0 748.0" fill="none" stroke="#6b6a50" stroke-width="3.1" stroke-linecap="round"/><path d="M469.5 738.5 Q476.2 735.6 481.0 732.0" fill="none" stroke="#6b6a50" stroke-width="3.1" stroke-linecap="round"/><path d="M469.5 738.5 Q468.3 731.6 472.0 727.0" fill="none" stroke="#6b6a50" stroke-width="3.1" stroke-linecap="round"/><path d="M469.5 738.5 Q463.1 733.8 460.0 728.0" fill="none" stroke="#86c2d8" stroke-width="1.7" stroke-linecap="round"/><path d="M469.5 738.5 Q462.5 741.3 457.0 744.0" fill="none" stroke="#86c2d8" stroke-width="1.7" stroke-linecap="round"/><path d="M469.5 738.5 Q467.8 745.6 465.0 751.0" fill="none" stroke="#86c2d8" stroke-width="1.7" stroke-linecap="round"/><path d="M469.5 738.5 Q473.7 744.1 478.0 748.0" fill="none" stroke="#86c2d8" stroke-width="1.7" stroke-linecap="round"/><path d="M469.5 738.5 Q476.2 735.6 481.0 732.0" fill="none" stroke="#86c2d8" stroke-width="1.7" stroke-linecap="round"/><path d="M469.5 738.5 Q468.3 731.6 472.0 727.0" fill="none" stroke="#86c2d8" stroke-width="1.7" stroke-linecap="round"/><line x1="469.5" y1="738.5" x2="478.2" y2="737.3" stroke="#a07a5a" stroke-width="1.3" stroke-linecap="round"/><line x1="469.5" y1="738.5" x2="476.5" y2="741.3" stroke="#6b6a50" stroke-width="1.3" stroke-linecap="round"/><line x1="469.5" y1="738.5" x2="473.6" y2="745.4" stroke="#6b6a50" stroke-width="1.3" stroke-linecap="round"/><line x1="469.5" y1="738.5" x2="470.5" y2="746.5" stroke="#a07a5a" stroke-width="1.3" stroke-linecap="round"/><line x1="469.5" y1="738.5" x2="467.6" y2="745.6" stroke="#6b6a50" stroke-width="1.3" stroke-linecap="round"/><line x1="469.5" y1="738.5" x2="463.7" y2="745.2" stroke="#6b6a50" stroke-width="1.3" stroke-linecap="round"/><line x1="469.5" y1="738.5" x2="461.7" y2="742.2" stroke="#a07a5a" stroke-width="1.3" stroke-linecap="round"/><line x1="469.5" y1="738.5" x2="462.3" y2="738.2" stroke="#6b6a50" stroke-width="1.3" stroke-linecap="round"/><line x1="469.5" y1="738.5" x2="462.3" y2="734.4" stroke="#6b6a50" stroke-width="1.3" stroke-linecap="round"/><line x1="469.5" y1="738.5" x2="464.7" y2="733.2" stroke="#a07a5a" stroke-width="1.3" stroke-linecap="round"/><line x1="469.5" y1="738.5" x2="468.5" y2="730.5" stroke="#6b6a50" stroke-width="1.3" stroke-linecap="round"/><line x1="469.5" y1="738.5" x2="472.0" y2="730.0" stroke="#6b6a50" stroke-width="1.3" stroke-linecap="round"/><line x1="469.5" y1="738.5" x2="475.5" y2="731.9" stroke="#a07a5a" stroke-width="1.3" stroke-linecap="round"/><line x1="469.5" y1="738.5" x2="477.2" y2="734.5" stroke="#6b6a50" stroke-width="1.3" stroke-linecap="round"/><circle cx="469.5" cy="738.5" r="5.6" fill="#86c2d8" stroke="#6b6a50" stroke-width="0.9"/><ellipse cx="469.5" cy="739.0" rx="1.9" ry="1.2" transform="rotate(-50 469.5 739.0)" fill="#1f5c8c"/>
<line x1="422.0" y1="679.0" x2="429.5" y2="760.5" stroke="#1a1a1a" stroke-width="1.3"/><path d="M430.5 771.5 L424.7 761.0 L434.3 760.1 Z" fill="#1a1a1a"/>
<path d="M398.5 756.3 L399.6 758.9 L402.4 758.5 L400.8 760.8 L402.4 763.0 L399.6 762.7 L398.5 765.3 L397.4 762.7 L394.6 763.0 L396.2 760.8 L394.6 758.5 L397.4 758.9 Z" fill="#1f2470"/>
<path d="M462.6 767.5 L463.7 770.1 L466.5 769.8 L464.9 772.0 L466.5 774.2 L463.7 773.9 L462.6 776.5 L461.5 773.9 L458.7 774.2 L460.4 772.0 L458.7 769.8 L461.5 770.1 Z" fill="#1f2470"/>
<path d="M420.1 782.2 L420.9 784.0 L422.9 783.8 L421.7 785.4 L422.9 787.0 L420.9 786.8 L420.1 788.6 L419.3 786.8 L417.3 787.0 L418.5 785.4 L417.3 783.8 L419.3 784.0 Z" fill="#1f2470"/>
<line x1="448.2" y1="770.1" x2="453.7" y2="771.1" stroke="#c4a98a" stroke-width="0.9"/><line x1="447.2" y1="771.7" x2="450.4" y2="776.3" stroke="#c4a98a" stroke-width="0.9"/><line x1="445.4" y1="772.1" x2="444.4" y2="777.6" stroke="#c4a98a" stroke-width="0.9"/><line x1="443.8" y1="771.1" x2="439.2" y2="774.3" stroke="#c4a98a" stroke-width="0.9"/><line x1="443.4" y1="769.3" x2="437.9" y2="768.3" stroke="#c4a98a" stroke-width="0.9"/><line x1="444.4" y1="767.7" x2="441.2" y2="763.1" stroke="#c4a98a" stroke-width="0.9"/><line x1="446.2" y1="767.3" x2="447.2" y2="761.8" stroke="#c4a98a" stroke-width="0.9"/><line x1="447.8" y1="768.3" x2="452.4" y2="765.1" stroke="#c4a98a" stroke-width="0.9"/><circle cx="445.8" cy="769.7" r="4.4" fill="none" stroke="#e8c9a8" stroke-width="1.5" opacity="0.8"/>
<line x1="401.5" y1="782.4" x2="406.7" y2="783.3" stroke="#c4a98a" stroke-width="0.9"/><line x1="400.6" y1="783.8" x2="403.6" y2="788.1" stroke="#c4a98a" stroke-width="0.9"/><line x1="398.9" y1="784.2" x2="398.0" y2="789.4" stroke="#c4a98a" stroke-width="0.9"/><line x1="397.5" y1="783.3" x2="393.2" y2="786.3" stroke="#c4a98a" stroke-width="0.9"/><line x1="397.1" y1="781.6" x2="391.9" y2="780.7" stroke="#c4a98a" stroke-width="0.9"/><line x1="398.0" y1="780.2" x2="395.0" y2="775.9" stroke="#c4a98a" stroke-width="0.9"/><line x1="399.7" y1="779.8" x2="400.6" y2="774.6" stroke="#c4a98a" stroke-width="0.9"/><line x1="401.1" y1="780.7" x2="405.4" y2="777.7" stroke="#c4a98a" stroke-width="0.9"/><circle cx="399.3" cy="782.0" r="4.1" fill="none" stroke="#e8c9a8" stroke-width="1.5" opacity="0.8"/>
<line x1="453.9" y1="795.7" x2="459.1" y2="796.6" stroke="#c4a98a" stroke-width="0.9"/><line x1="453.0" y1="797.1" x2="456.0" y2="801.4" stroke="#c4a98a" stroke-width="0.9"/><line x1="451.3" y1="797.5" x2="450.4" y2="802.7" stroke="#c4a98a" stroke-width="0.9"/><line x1="449.9" y1="796.6" x2="445.6" y2="799.6" stroke="#c4a98a" stroke-width="0.9"/><line x1="449.5" y1="794.9" x2="444.3" y2="794.0" stroke="#c4a98a" stroke-width="0.9"/><line x1="450.4" y1="793.5" x2="447.4" y2="789.2" stroke="#c4a98a" stroke-width="0.9"/><line x1="452.1" y1="793.1" x2="453.0" y2="787.9" stroke="#c4a98a" stroke-width="0.9"/><line x1="453.5" y1="794.0" x2="457.8" y2="791.0" stroke="#c4a98a" stroke-width="0.9"/><circle cx="451.7" cy="795.3" r="4.1" fill="none" stroke="#e8c9a8" stroke-width="1.5" opacity="0.8"/>
<line x1="381.0" y1="796.0" x2="386.0" y2="802.0" stroke="#2b2c86" stroke-width="2" stroke-linecap="round"/><line x1="386.0" y1="802.0" x2="395.0" y2="801.0" stroke="#2b2c86" stroke-width="2" stroke-linecap="round"/><line x1="385.0" y1="803.0" x2="381.0" y2="815.0" stroke="#2b2c86" stroke-width="2" stroke-linecap="round"/><line x1="387.0" y1="803.0" x2="383.0" y2="815.0" stroke="#2b2c86" stroke-width="2" stroke-linecap="round"/><line x1="381.0" y1="815.0" x2="386.0" y2="820.0" stroke="#2b2c86" stroke-width="2" stroke-linecap="round"/><line x1="381.0" y1="815.0" x2="373.0" y2="814.0" stroke="#2b2c86" stroke-width="2" stroke-linecap="round"/><line x1="381.0" y1="796.0" x2="380.5" y2="793.5" stroke="#b04a8e" stroke-width="2" stroke-linecap="round"/><line x1="395.0" y1="801.0" x2="396.0" y2="801.0" stroke="#b04a8e" stroke-width="2" stroke-linecap="round"/><line x1="386.0" y1="820.0" x2="385.5" y2="821.0" stroke="#b04a8e" stroke-width="2" stroke-linecap="round"/><line x1="373.0" y1="814.0" x2="371.0" y2="814.5" stroke="#b04a8e" stroke-width="2" stroke-linecap="round"/>
<circle cx="384.7" cy="801.8" r="1.8" fill="#2032a0"/><circle cx="380.5" cy="813.8" r="1.8" fill="#2032a0"/>
<line x1="478.0" y1="805.0" x2="486.7" y2="807.3" stroke="#2b2c86" stroke-width="2" stroke-linecap="round"/><line x1="486.7" y1="807.3" x2="491.0" y2="801.0" stroke="#2b2c86" stroke-width="2" stroke-linecap="round"/><line x1="485.5" y1="808.0" x2="489.5" y2="824.5" stroke="#2b2c86" stroke-width="2" stroke-linecap="round"/><line x1="488.0" y1="807.5" x2="492.5" y2="823.5" stroke="#2b2c86" stroke-width="2" stroke-linecap="round"/><line x1="471.0" y1="802.5" x2="478.0" y2="805.0" stroke="#b04a8e" stroke-width="2" stroke-linecap="round"/><line x1="491.0" y1="801.0" x2="495.5" y2="794.5" stroke="#b04a8e" stroke-width="2" stroke-linecap="round"/>
<circle cx="486.7" cy="807.3" r="1.9" fill="#2032a0"/>
<path d="M388 860 Q380 871 373 882" stroke="#8fb045" stroke-width="3.2" fill="none" stroke-linecap="round"/><path d="M388 860 Q380 871 373 882" stroke="#dcebb0" stroke-width="1.3" fill="none" stroke-linecap="round"/>
<path d="M407 880 Q403 889 401 897" stroke="#8fb045" stroke-width="3.2" fill="none" stroke-linecap="round"/><path d="M407 880 Q403 889 401 897" stroke="#dcebb0" stroke-width="1.3" fill="none" stroke-linecap="round"/>
<path d="M447.5 884 Q449 892 448 899" stroke="#8fb045" stroke-width="3.2" fill="none" stroke-linecap="round"/><path d="M447.5 884 Q449 892 448 899" stroke="#dcebb0" stroke-width="1.3" fill="none" stroke-linecap="round"/>
<path d="M385.6 849.0 C386.5 844.5 388.8 839.5 392.0 836.2 C395.2 832.9 400.9 830.3 404.9 829.0 C408.9 827.7 412.4 827.3 416.1 828.2 C419.8 829.1 424.9 832.7 427.3 834.6 C429.7 836.5 429.1 838.7 430.5 839.4 C431.9 840.1 432.7 838.7 435.4 838.6 C438.1 838.5 442.9 837.7 446.6 838.6 C450.3 839.5 454.7 841.4 457.8 844.2 C460.9 847.0 463.7 851.6 465.0 855.4 C466.3 859.1 466.7 863.0 465.8 866.7 C464.9 870.5 462.6 874.8 459.4 877.9 C456.2 881.0 452.0 883.8 446.6 885.1 C441.2 886.4 433.7 886.4 427.3 885.9 C420.9 885.4 413.7 883.8 408.1 881.9 C402.5 880.0 397.3 877.8 393.7 874.7 C390.1 871.6 387.9 867.7 386.5 863.4 C385.1 859.1 384.7 853.5 385.6 849.0 Z" fill="#a9c74b" stroke="#7f9e36" stroke-width="0.8"/>
<path d="M391.0 850.2 C391.8 846.2 394.1 842.3 396.7 839.1 C399.3 835.9 403.1 832.5 406.5 831.1 C409.9 829.7 413.5 829.6 417.0 830.6 C420.5 831.7 425.1 835.3 427.3 837.2 C429.4 839.1 428.8 841.3 430.0 842.0 C431.2 842.6 431.9 841.2 434.4 841.0 C436.8 840.7 441.7 839.5 444.8 840.4 C447.8 841.3 450.3 843.9 452.8 846.4 C455.2 849.0 458.2 852.6 459.5 855.8 C460.8 859.0 461.2 862.3 460.4 865.5 C459.6 868.7 457.3 872.1 454.7 875.0 C452.2 877.9 449.6 881.6 445.1 883.0 C440.5 884.4 433.2 883.8 427.3 883.3 C421.4 882.8 414.5 881.7 409.7 879.9 C404.9 878.0 401.6 875.1 398.6 872.2 C395.7 869.4 393.2 866.4 392.0 862.7 C390.7 859.0 390.2 854.1 391.0 850.2 Z" fill="#f6f6e6" stroke="#8aa83c" stroke-width="0.7"/>
<line x1="409.9" y1="857.9" x2="393.2" y2="866.6" stroke="#8aa83c" stroke-width="1.1"/>
<line x1="413.5" y1="862.6" x2="399.4" y2="874.1" stroke="#8aa83c" stroke-width="1.1"/>
<line x1="419.8" y1="866.4" x2="410.1" y2="880.1" stroke="#8aa83c" stroke-width="1.1"/>
<line x1="426.1" y1="868.0" x2="420.7" y2="882.6" stroke="#8aa83c" stroke-width="1.1"/>
<line x1="433.4" y1="868.0" x2="433.3" y2="882.6" stroke="#8aa83c" stroke-width="1.1"/>
<line x1="439.7" y1="866.4" x2="443.9" y2="880.1" stroke="#8aa83c" stroke-width="1.1"/>
<line x1="445.5" y1="863.0" x2="453.8" y2="874.7" stroke="#8aa83c" stroke-width="1.1"/>
<line x1="448.9" y1="859.1" x2="459.6" y2="868.6" stroke="#8aa83c" stroke-width="1.1"/>
<line x1="450.7" y1="854.7" x2="462.6" y2="861.5" stroke="#8aa83c" stroke-width="1.1"/>
<line x1="450.6" y1="849.8" x2="462.5" y2="853.7" stroke="#8aa83c" stroke-width="1.1"/>
<line x1="408.8" y1="850.3" x2="391.4" y2="854.5" stroke="#8aa83c" stroke-width="1.1"/>
<line x1="409.9" y1="847.1" x2="393.2" y2="849.4" stroke="#8aa83c" stroke-width="1.1"/>
<path d="M433 799 Q436.5 800 436 804 Q435 807 437.5 810 Q440 815 437.5 820 Q436 823 438 826 Q440 832 436.5 837 L428.5 837 Q426 831 428.5 826 Q430 823 429 820 Q427 815 430 810 Q432 807 430.5 804 Q430 800 433 799 Z" fill="#f7f5e4" stroke="#a2bf55" stroke-width="0.9"/>
<line x1="484.5" y1="615" x2="484.5" y2="631" stroke="#7a7060" stroke-width="1.2"/>
<g opacity="1.00"><circle cx="363.0" cy="621.2" r="2.40" fill="#f2d9a8"/><circle cx="362.7" cy="623.8" r="2.40" fill="#eac2c9"/><circle cx="361.2" cy="626.6" r="2.40" fill="#eac2c9"/><circle cx="359.5" cy="628.0" r="2.40" fill="#efcdd2"/><circle cx="358.0" cy="628.7" r="2.40" fill="#f2d9a8"/><circle cx="354.4" cy="629.0" r="2.40" fill="#eac2c9"/><circle cx="352.7" cy="628.6" r="2.40" fill="#f2d9a8"/><circle cx="350.4" cy="627.0" r="2.40" fill="#f2dfb8"/><circle cx="348.9" cy="624.9" r="2.40" fill="#efcdd2"/><circle cx="348.2" cy="622.8" r="2.40" fill="#f2d9a8"/><circle cx="348.4" cy="619.9" r="2.40" fill="#f2d9a8"/><circle cx="348.7" cy="618.8" r="2.40" fill="#e9d3b0"/><circle cx="350.6" cy="616.2" r="2.40" fill="#eac2c9"/><circle cx="352.9" cy="614.8" r="2.40" fill="#eac2c9"/><circle cx="355.3" cy="614.3" r="2.40" fill="#f4e2bc"/><circle cx="357.0" cy="614.4" r="2.40" fill="#eac2c9"/><circle cx="360.2" cy="615.9" r="2.40" fill="#f4e2bc"/><circle cx="361.2" cy="616.8" r="2.40" fill="#efcdd2"/><circle cx="362.7" cy="619.5" r="2.40" fill="#eac2c9"/><circle cx="355.6" cy="621.7" r="5.04" fill="#f7f3f8"/><circle cx="353.4" cy="622.3" r="0.96" fill="#2b8fa0"/><circle cx="356.6" cy="624.7" r="0.96" fill="#3a2a48"/><circle cx="357.4" cy="619.9" r="0.96" fill="#b45aa0"/><circle cx="355.0" cy="619.1" r="0.96" fill="#8a9ad0"/><line x1="357.5" y1="626.4" x2="360.3" y2="633.0" stroke="#5a4c30" stroke-width="0.90" stroke-linecap="round"/><circle cx="357.5" cy="626.4" r="0.72" fill="#4a2a55"/><line x1="353.5" y1="626.3" x2="350.4" y2="632.8" stroke="#5a4c30" stroke-width="0.90" stroke-linecap="round"/><circle cx="353.5" cy="626.3" r="0.72" fill="#4a2a55"/><line x1="350.6" y1="621.1" x2="343.5" y2="620.2" stroke="#5a4c30" stroke-width="0.90" stroke-linecap="round"/><circle cx="350.6" cy="621.1" r="0.72" fill="#4a2a55"/><line x1="353.7" y1="617.1" x2="350.9" y2="610.4" stroke="#5a4c30" stroke-width="0.90" stroke-linecap="round"/><circle cx="353.7" cy="617.1" r="0.72" fill="#4a2a55"/><line x1="357.1" y1="616.9" x2="359.3" y2="610.0" stroke="#5a4c30" stroke-width="0.90" stroke-linecap="round"/><circle cx="357.1" cy="616.9" r="0.72" fill="#4a2a55"/><line x1="360.6" y1="621.7" x2="367.8" y2="621.8" stroke="#5a4c30" stroke-width="0.90" stroke-linecap="round"/><circle cx="360.6" cy="621.7" r="0.72" fill="#4a2a55"/></g>
<g opacity="1.00"><circle cx="418.6" cy="596.1" r="2.80" fill="#f2d9a8"/><circle cx="418.5" cy="597.1" r="2.80" fill="#f2dfb8"/><circle cx="417.0" cy="600.5" r="2.80" fill="#e9d3b0"/><circle cx="415.3" cy="602.2" r="2.80" fill="#f2dfb8"/><circle cx="414.0" cy="603.0" r="2.80" fill="#efcdd2"/><circle cx="411.1" cy="603.9" r="2.80" fill="#f4e2bc"/><circle cx="408.5" cy="603.8" r="2.80" fill="#eac2c9"/><circle cx="406.2" cy="603.1" r="2.80" fill="#e9d3b0"/><circle cx="403.9" cy="601.4" r="2.80" fill="#f4e2bc"/><circle cx="402.3" cy="599.3" r="2.80" fill="#f4e2bc"/><circle cx="401.5" cy="597.0" r="2.80" fill="#f4e2bc"/><circle cx="401.3" cy="595.7" r="2.80" fill="#f2d9a8"/><circle cx="401.9" cy="592.2" r="2.80" fill="#f2dfb8"/><circle cx="402.7" cy="590.7" r="2.80" fill="#f2dfb8"/><circle cx="404.9" cy="588.3" r="2.80" fill="#eac2c9"/><circle cx="407.0" cy="587.1" r="2.80" fill="#f4e2bc"/><circle cx="408.2" cy="586.8" r="2.80" fill="#efcdd2"/><circle cx="410.8" cy="586.7" r="2.80" fill="#f2d9a8"/><circle cx="413.1" cy="587.2" r="2.80" fill="#efcdd2"/><circle cx="415.2" cy="588.3" r="2.80" fill="#f4e2bc"/><circle cx="417.2" cy="590.4" r="2.80" fill="#f4e2bc"/><circle cx="418.4" cy="593.1" r="2.80" fill="#efcdd2"/><circle cx="410.0" cy="595.3" r="5.88" fill="#f7f3f8"/><circle cx="407.5" cy="596.0" r="1.12" fill="#2b8fa0"/><circle cx="411.1" cy="598.8" r="1.12" fill="#3a2a48"/><circle cx="412.1" cy="593.2" r="1.12" fill="#b45aa0"/><circle cx="409.3" cy="592.2" r="1.12" fill="#8a9ad0"/><line x1="413.1" y1="600.3" x2="417.5" y2="607.5" stroke="#5a4c30" stroke-width="1.05" stroke-linecap="round"/><circle cx="413.1" cy="600.3" r="0.84" fill="#4a2a55"/><line x1="407.3" y1="600.5" x2="403.4" y2="607.9" stroke="#5a4c30" stroke-width="1.05" stroke-linecap="round"/><circle cx="407.3" cy="600.5" r="0.84" fill="#4a2a55"/><line x1="404.1" y1="595.3" x2="395.7" y2="595.2" stroke="#5a4c30" stroke-width="1.05" stroke-linecap="round"/><circle cx="404.1" cy="595.3" r="0.84" fill="#4a2a55"/><line x1="407.9" y1="589.8" x2="405.0" y2="581.9" stroke="#5a4c30" stroke-width="1.05" stroke-linecap="round"/><circle cx="407.9" cy="589.8" r="0.84" fill="#4a2a55"/><line x1="412.6" y1="590.0" x2="416.4" y2="582.5" stroke="#5a4c30" stroke-width="1.05" stroke-linecap="round"/><circle cx="412.6" cy="590.0" r="0.84" fill="#4a2a55"/><line x1="415.9" y1="595.5" x2="424.3" y2="595.8" stroke="#5a4c30" stroke-width="1.05" stroke-linecap="round"/><circle cx="415.9" cy="595.5" r="0.84" fill="#4a2a55"/></g>
<g opacity="1.00"><circle cx="494.0" cy="603.9" r="3.40" fill="#f4e2bc"/><circle cx="493.9" cy="606.2" r="3.40" fill="#f4e2bc"/><circle cx="492.9" cy="609.2" r="3.40" fill="#f4e2bc"/><circle cx="492.1" cy="610.5" r="3.40" fill="#f2d9a8"/><circle cx="489.1" cy="613.4" r="3.40" fill="#eac2c9"/><circle cx="488.1" cy="614.0" r="3.40" fill="#efcdd2"/><circle cx="486.0" cy="614.7" r="3.40" fill="#e9d3b0"/><circle cx="482.9" cy="615.0" r="3.40" fill="#f4e2bc"/><circle cx="480.5" cy="614.6" r="3.40" fill="#e9d3b0"/><circle cx="477.6" cy="613.2" r="3.40" fill="#efcdd2"/><circle cx="476.1" cy="612.0" r="3.40" fill="#f4e2bc"/><circle cx="474.8" cy="610.5" r="3.40" fill="#f2d9a8"/><circle cx="473.5" cy="607.8" r="3.40" fill="#f2d9a8"/><circle cx="473.1" cy="606.4" r="3.40" fill="#f4e2bc"/><circle cx="473.0" cy="604.2" r="3.40" fill="#f2d9a8"/><circle cx="473.8" cy="600.3" r="3.40" fill="#f2dfb8"/><circle cx="474.7" cy="598.8" r="3.40" fill="#e9d3b0"/><circle cx="476.9" cy="596.3" r="3.40" fill="#eac2c9"/><circle cx="478.6" cy="595.2" r="3.40" fill="#eac2c9"/><circle cx="480.3" cy="594.5" r="3.40" fill="#f4e2bc"/><circle cx="482.8" cy="594.0" r="3.40" fill="#efcdd2"/><circle cx="486.1" cy="594.3" r="3.40" fill="#f2d9a8"/><circle cx="486.8" cy="594.5" r="3.40" fill="#eac2c9"/><circle cx="489.3" cy="595.7" r="3.40" fill="#e9d3b0"/><circle cx="491.5" cy="597.6" r="3.40" fill="#e9d3b0"/><circle cx="493.2" cy="600.5" r="3.40" fill="#eac2c9"/><circle cx="493.8" cy="602.1" r="3.40" fill="#eac2c9"/><circle cx="483.5" cy="604.5" r="7.14" fill="#f7f3f8"/><circle cx="480.4" cy="605.4" r="1.36" fill="#2b8fa0"/><circle cx="484.9" cy="608.8" r="1.36" fill="#3a2a48"/><circle cx="486.1" cy="602.0" r="1.36" fill="#b45aa0"/><circle cx="482.6" cy="600.8" r="1.36" fill="#8a9ad0"/><line x1="489.3" y1="608.6" x2="497.7" y2="614.5" stroke="#5a4c30" stroke-width="1.27" stroke-linecap="round"/><circle cx="489.3" cy="608.6" r="1.02" fill="#4a2a55"/><line x1="484.3" y1="611.6" x2="485.4" y2="621.7" stroke="#5a4c30" stroke-width="1.27" stroke-linecap="round"/><circle cx="484.3" cy="611.6" r="1.02" fill="#4a2a55"/><line x1="478.8" y1="609.9" x2="472.2" y2="617.6" stroke="#5a4c30" stroke-width="1.27" stroke-linecap="round"/><circle cx="478.8" cy="609.9" r="1.02" fill="#4a2a55"/><line x1="476.4" y1="603.9" x2="466.2" y2="603.0" stroke="#5a4c30" stroke-width="1.27" stroke-linecap="round"/><circle cx="476.4" cy="603.9" r="1.02" fill="#4a2a55"/><line x1="481.1" y1="597.8" x2="477.6" y2="588.2" stroke="#5a4c30" stroke-width="1.27" stroke-linecap="round"/><circle cx="481.1" cy="597.8" r="1.02" fill="#4a2a55"/><line x1="484.8" y1="597.5" x2="486.6" y2="587.4" stroke="#5a4c30" stroke-width="1.27" stroke-linecap="round"/><circle cx="484.8" cy="597.5" r="1.02" fill="#4a2a55"/><line x1="490.1" y1="601.8" x2="499.5" y2="597.9" stroke="#5a4c30" stroke-width="1.27" stroke-linecap="round"/><circle cx="490.1" cy="601.8" r="1.02" fill="#4a2a55"/></g>
<text x="254.5" y="932.3" font-size="13.8" fill="#2b2626" stroke="#2b2626" stroke-width="0.3" textLength="346" lengthAdjust="spacingAndGlyphs">Cytoplasmic delivery of mucosa-associated lymphocytes</text>
<text x="539.3" y="625.5" font-size="13" fill="#2b2626" stroke="#2b2626" stroke-width="0.3" textLength="107" lengthAdjust="spacingAndGlyphs">Lung epithelial cell</text>
<defs><linearGradient id="ba" x1="0" y1="0" x2="1" y2="0"><stop offset="0" stop-color="#5a6cb4" stop-opacity="0.05"/><stop offset="0.35" stop-color="#4a5fae" stop-opacity="0.85"/><stop offset="1" stop-color="#3f57a6"/></linearGradient></defs>
<path d="M534 597.5 Q586 574 634 588" fill="none" stroke="url(#ba)" stroke-width="5"/>
<path d="M648.5 589.5 L631 577 L633.5 588.5 L628.5 597 Z" fill="#3f57a6"/>
<!-- panel.svg -->
<rect x="673.5" y="513.5" width="326" height="458" rx="14" fill="#f9efee" stroke="#2a2222" stroke-width="2"/>
<defs>
<clipPath id="rc0"><rect x="701.5" y="521.5" width="147.7" height="144"/></clipPath>
<clipPath id="rc1"><rect x="701.5" y="669.8" width="147.7" height="144.2"/></clipPath>
<clipPath id="rc2"><rect x="701.5" y="820.8" width="147.7" height="144.2"/></clipPath>
</defs>
<g clip-path="url(#rc0)">
<rect x="701.5" y="521.5" width="147.7" height="144" fill="#ffffff"/>
<rect x="696.1" y="597.5" width="48.3" height="61.0" rx="6" fill="#dfcadc" stroke="#c6a9bd" stroke-width="0.9"/>
<rect x="745.6" y="597.5" width="55.5" height="61.0" rx="6" fill="#dfcadc" stroke="#c6a9bd" stroke-width="0.9"/>
<rect x="802.3" y="597.5" width="52.3" height="61.0" rx="6" fill="#dfcadc" stroke="#c6a9bd" stroke-width="0.9"/>
<ellipse cx="719.2" cy="641.7" rx="12" ry="10" fill="#c68dcb"/>
<ellipse cx="766.0" cy="641.7" rx="14" ry="11" fill="#c68dcb"/>
<ellipse cx="833.3" cy="641.7" rx="12" ry="10" fill="#c68dcb"/>
<path d="M699.5 567.8 L704.6 568.2 L709.6 568.5 L714.7 568.7 L719.7 568.9 L724.8 568.9 L729.8 568.8 L734.9 568.7 L740.0 568.4 L745.0 568.1 L750.1 567.7 L755.1 567.3 L760.2 566.8 L765.2 566.3 L770.3 565.9 L775.4 565.5 L780.4 565.1 L785.5 564.8 L790.5 564.6 L795.6 564.5 L800.6 564.5 L805.7 564.6 L810.7 564.8 L815.8 565.1 L820.9 565.4 L825.9 565.8 L831.0 566.3 L836.0 566.8 L841.1 567.2 L846.1 567.7 L851.2 568.1 L851.2 601.3 L846.1 601.5 L841.1 601.6 L836.0 601.7 L831.0 601.9 L825.9 602.0 L820.9 602.2 L815.8 602.3 L810.7 602.5 L805.7 602.6 L800.6 602.7 L795.6 602.9 L790.5 603.0 L785.5 603.0 L780.4 603.1 L775.4 603.2 L770.3 603.2 L765.2 603.2 L760.2 603.2 L755.1 603.2 L750.1 603.1 L745.0 603.1 L740.0 603.0 L734.9 602.9 L729.8 602.8 L724.8 602.7 L719.7 602.5 L714.7 602.4 L709.6 602.2 L704.6 602.1 L699.5 601.9 Z" fill="#ebe9f4"/>
<path d="M699.5 567.8 L704.6 568.2 L709.6 568.5 L714.7 568.7 L719.7 568.9 L724.8 568.9 L729.8 568.8 L734.9 568.7 L740.0 568.4 L745.0 568.1 L750.1 567.7 L755.1 567.3 L760.2 566.8 L765.2 566.3 L770.3 565.9 L775.4 565.5 L780.4 565.1 L785.5 564.8 L790.5 564.6 L795.6 564.5 L800.6 564.5 L805.7 564.6 L810.7 564.8 L815.8 565.1 L820.9 565.4 L825.9 565.8 L831.0 566.3 L836.0 566.8 L841.1 567.2 L846.1 567.7 L851.2 568.1" fill="none" stroke="#b7b4c8" stroke-width="1.1"/>
<path d="M851.2 601.3 L846.1 601.5 L841.1 601.6 L836.0 601.7 L831.0 601.9 L825.9 602.0 L820.9 602.2 L815.8 602.3 L810.7 602.5 L805.7 602.6 L800.6 602.7 L795.6 602.9 L790.5 603.0 L785.5 603.0 L780.4 603.1 L775.4 603.2 L770.3 603.2 L765.2 603.2 L760.2 603.2 L755.1 603.2 L750.1 603.1 L745.0 603.1 L740.0 603.0 L734.9 602.9 L729.8 602.8 L724.8 602.7 L719.7 602.5 L714.7 602.4 L709.6 602.2 L704.6 602.1 L699.5 601.9" fill="none" stroke="#b9b0c4" stroke-width="1"/>
<rect x="703.0" y="579.2" width="4.6" height="22.8" rx="2.3" fill="#d5d0e2" stroke="#c3bdd2" stroke-width="0.7"/>
<rect x="704.5" y="581.7" width="1.6" height="17.8" rx="0.8" fill="#f4f2f8"/>
<rect x="711.9" y="579.2" width="4.6" height="22.8" rx="2.3" fill="#d5d0e2" stroke="#c3bdd2" stroke-width="0.7"/>
<rect x="713.4" y="581.7" width="1.6" height="17.8" rx="0.8" fill="#f4f2f8"/>
<rect x="720.8" y="579.2" width="4.6" height="22.8" rx="2.3" fill="#d5d0e2" stroke="#c3bdd2" stroke-width="0.7"/>
<rect x="722.3" y="581.7" width="1.6" height="17.8" rx="0.8" fill="#f4f2f8"/>
<rect x="729.7" y="579.2" width="4.6" height="22.8" rx="2.3" fill="#d5d0e2" stroke="#c3bdd2" stroke-width="0.7"/>
<rect x="731.2" y="581.7" width="1.6" height="17.8" rx="0.8" fill="#f4f2f8"/>
<rect x="738.6" y="579.2" width="4.6" height="22.8" rx="2.3" fill="#d5d0e2" stroke="#c3bdd2" stroke-width="0.7"/>
<rect x="740.1" y="581.7" width="1.6" height="17.8" rx="0.8" fill="#f4f2f8"/>
<rect x="747.5" y="579.2" width="4.6" height="22.8" rx="2.3" fill="#d5d0e2" stroke="#c3bdd2" stroke-width="0.7"/>
<rect x="749.0" y="581.7" width="1.6" height="17.8" rx="0.8" fill="#f4f2f8"/>
<rect x="756.4" y="579.2" width="4.6" height="22.8" rx="2.3" fill="#d5d0e2" stroke="#c3bdd2" stroke-width="0.7"/>
<rect x="757.9" y="581.7" width="1.6" height="17.8" rx="0.8" fill="#f4f2f8"/>
<rect x="765.3" y="579.2" width="4.6" height="22.8" rx="2.3" fill="#d5d0e2" stroke="#c3bdd2" stroke-width="0.7"/>
<rect x="766.8" y="581.7" width="1.6" height="17.8" rx="0.8" fill="#f4f2f8"/>
<rect x="774.2" y="579.2" width="4.6" height="22.8" rx="2.3" fill="#d5d0e2" stroke="#c3bdd2" stroke-width="0.7"/>
<rect x="775.7" y="581.7" width="1.6" height="17.8" rx="0.8" fill="#f4f2f8"/>
<rect x="783.1" y="579.2" width="4.6" height="22.8" rx="2.3" fill="#d5d0e2" stroke="#c3bdd2" stroke-width="0.7"/>
<rect x="784.6" y="581.7" width="1.6" height="17.8" rx="0.8" fill="#f4f2f8"/>
<rect x="792.0" y="579.2" width="4.6" height="22.8" rx="2.3" fill="#d5d0e2" stroke="#c3bdd2" stroke-width="0.7"/>
<rect x="793.5" y="581.7" width="1.6" height="17.8" rx="0.8" fill="#f4f2f8"/>
<rect x="800.9" y="579.2" width="4.6" height="22.8" rx="2.3" fill="#d5d0e2" stroke="#c3bdd2" stroke-width="0.7"/>
<rect x="802.4" y="581.7" width="1.6" height="17.8" rx="0.8" fill="#f4f2f8"/>
<rect x="809.8" y="579.2" width="4.6" height="22.8" rx="2.3" fill="#d5d0e2" stroke="#c3bdd2" stroke-width="0.7"/>
<rect x="811.3" y="581.7" width="1.6" height="17.8" rx="0.8" fill="#f4f2f8"/>
<rect x="818.7" y="579.2" width="4.6" height="22.8" rx="2.3" fill="#d5d0e2" stroke="#c3bdd2" stroke-width="0.7"/>
<rect x="820.2" y="581.7" width="1.6" height="17.8" rx="0.8" fill="#f4f2f8"/>
<rect x="827.6" y="579.2" width="4.6" height="22.8" rx="2.3" fill="#d5d0e2" stroke="#c3bdd2" stroke-width="0.7"/>
<rect x="829.1" y="581.7" width="1.6" height="17.8" rx="0.8" fill="#f4f2f8"/>
<rect x="836.5" y="579.2" width="4.6" height="22.8" rx="2.3" fill="#d5d0e2" stroke="#c3bdd2" stroke-width="0.7"/>
<rect x="838.0" y="581.7" width="1.6" height="17.8" rx="0.8" fill="#f4f2f8"/>
<rect x="845.4" y="579.2" width="4.6" height="22.8" rx="2.3" fill="#d5d0e2" stroke="#c3bdd2" stroke-width="0.7"/>
<rect x="846.9" y="581.7" width="1.6" height="17.8" rx="0.8" fill="#f4f2f8"/>
<line x1="745.0" y1="603.5" x2="745.0" y2="658.5" stroke="#b8949e" stroke-width="0.9"/>
<circle cx="745.0" cy="603.5" r="3.3" fill="#f5ead8" stroke="#dcc7a8" stroke-width="0.7"/>
<line x1="801.7" y1="603.5" x2="801.7" y2="658.5" stroke="#b8949e" stroke-width="0.9"/>
<circle cx="801.7" cy="603.5" r="3.3" fill="#f5ead8" stroke="#dcc7a8" stroke-width="0.7"/>
</g>
<g clip-path="url(#rc1)">
<rect x="701.5" y="669.8" width="147.7" height="144.2" fill="#ffffff"/>
<rect x="696.1" y="747.7" width="48.3" height="62.6" rx="6" fill="#dfcadc" stroke="#c6a9bd" stroke-width="0.9"/>
<rect x="745.6" y="747.7" width="55.5" height="62.6" rx="6" fill="#dfcadc" stroke="#c6a9bd" stroke-width="0.9"/>
<rect x="802.3" y="747.7" width="52.3" height="62.6" rx="6" fill="#dfcadc" stroke="#c6a9bd" stroke-width="0.9"/>
<ellipse cx="718.6" cy="792.7" rx="12" ry="10.5" fill="#c68dcb"/>
<ellipse cx="833.3" cy="792.7" rx="12" ry="10.5" fill="#c68dcb"/>
<path d="M699.5 718.0 L704.6 718.4 L709.6 718.8 L714.7 719.2 L719.7 719.4 L724.8 719.6 L729.8 719.7 L734.9 719.7 L740.0 719.6 L745.0 719.3 L750.1 719.0 L755.1 718.7 L760.2 718.3 L765.2 717.8 L770.3 717.3 L775.4 716.9 L780.4 716.4 L785.5 716.0 L790.5 715.7 L795.6 715.5 L800.6 715.3 L805.7 715.3 L810.7 715.4 L815.8 715.5 L820.9 715.8 L825.9 716.1 L831.0 716.5 L836.0 716.9 L841.1 717.4 L846.1 717.8 L851.2 718.3 L851.2 751.5 L846.1 751.7 L841.1 751.8 L836.0 751.9 L831.0 752.1 L825.9 752.2 L820.9 752.4 L815.8 752.5 L810.7 752.7 L805.7 752.8 L800.6 752.9 L795.6 753.1 L790.5 753.2 L785.5 753.2 L780.4 753.3 L775.4 753.4 L770.3 753.4 L765.2 753.4 L760.2 753.4 L755.1 753.4 L750.1 753.3 L745.0 753.3 L740.0 753.2 L734.9 753.1 L729.8 753.0 L724.8 752.9 L719.7 752.7 L714.7 752.6 L709.6 752.4 L704.6 752.3 L699.5 752.1 Z" fill="#ebe9f4"/>
<path d="M699.5 718.0 L704.6 718.4 L709.6 718.8 L714.7 719.2 L719.7 719.4 L724.8 719.6 L729.8 719.7 L734.9 719.7 L740.0 719.6 L745.0 719.3 L750.1 719.0 L755.1 718.7 L760.2 718.3 L765.2 717.8 L770.3 717.3 L775.4 716.9 L780.4 716.4 L785.5 716.0 L790.5 715.7 L795.6 715.5 L800.6 715.3 L805.7 715.3 L810.7 715.4 L815.8 715.5 L820.9 715.8 L825.9 716.1 L831.0 716.5 L836.0 716.9 L841.1 717.4 L846.1 717.8 L851.2 718.3" fill="none" stroke="#b7b4c8" stroke-width="1.1"/>
<path d="M851.2 751.5 L846.1 751.7 L841.1 751.8 L836.0 751.9 L831.0 752.1 L825.9 752.2 L820.9 752.4 L815.8 752.5 L810.7 752.7 L805.7 752.8 L800.6 752.9 L795.6 753.1 L790.5 753.2 L785.5 753.2 L780.4 753.3 L775.4 753.4 L770.3 753.4 L765.2 753.4 L760.2 753.4 L755.1 753.4 L750.1 753.3 L745.0 753.3 L740.0 753.2 L734.9 753.1 L729.8 753.0 L724.8 752.9 L719.7 752.7 L714.7 752.6 L709.6 752.4 L704.6 752.3 L699.5 752.1" fill="none" stroke="#b9b0c4" stroke-width="1"/>
<rect x="703.0" y="729.6" width="4.6" height="21.4" rx="2.3" fill="#d5d0e2" stroke="#c3bdd2" stroke-width="0.7"/>
<rect x="704.5" y="732.1" width="1.6" height="16.4" rx="0.8" fill="#f4f2f8"/>
<rect x="711.9" y="729.6" width="4.6" height="21.4" rx="2.3" fill="#d5d0e2" stroke="#c3bdd2" stroke-width="0.7"/>
<rect x="713.4" y="732.1" width="1.6" height="16.4" rx="0.8" fill="#f4f2f8"/>
<rect x="720.8" y="729.6" width="4.6" height="21.4" rx="2.3" fill="#d5d0e2" stroke="#c3bdd2" stroke-width="0.7"/>
<rect x="722.3" y="732.1" width="1.6" height="16.4" rx="0.8" fill="#f4f2f8"/>
<rect x="729.7" y="729.6" width="4.6" height="21.4" rx="2.3" fill="#d5d0e2" stroke="#c3bdd2" stroke-width="0.7"/>
<rect x="731.2" y="732.1" width="1.6" height="16.4" rx="0.8" fill="#f4f2f8"/>
<rect x="738.6" y="729.6" width="4.6" height="21.4" rx="2.3" fill="#d5d0e2" stroke="#c3bdd2" stroke-width="0.7"/>
<rect x="740.1" y="732.1" width="1.6" height="16.4" rx="0.8" fill="#f4f2f8"/>
<rect x="747.5" y="729.6" width="4.6" height="21.4" rx="2.3" fill="#d5d0e2" stroke="#c3bdd2" stroke-width="0.7"/>
<rect x="749.0" y="732.1" width="1.6" height="16.4" rx="0.8" fill="#f4f2f8"/>
<rect x="756.4" y="729.6" width="4.6" height="21.4" rx="2.3" fill="#d5d0e2" stroke="#c3bdd2" stroke-width="0.7"/>
<rect x="757.9" y="732.1" width="1.6" height="16.4" rx="0.8" fill="#f4f2f8"/>
<rect x="783.1" y="729.6" width="4.6" height="21.4" rx="2.3" fill="#d5d0e2" stroke="#c3bdd2" stroke-width="0.7"/>
<rect x="784.6" y="732.1" width="1.6" height="16.4" rx="0.8" fill="#f4f2f8"/>
<rect x="792.0" y="729.6" width="4.6" height="21.4" rx="2.3" fill="#d5d0e2" stroke="#c3bdd2" stroke-width="0.7"/>
<rect x="793.5" y="732.1" width="1.6" height="16.4" rx="0.8" fill="#f4f2f8"/>
<rect x="800.9" y="729.6" width="4.6" height="21.4" rx="2.3" fill="#d5d0e2" stroke="#c3bdd2" stroke-width="0.7"/>
<rect x="802.4" y="732.1" width="1.6" height="16.4" rx="0.8" fill="#f4f2f8"/>
<rect x="809.8" y="729.6" width="4.6" height="21.4" rx="2.3" fill="#d5d0e2" stroke="#c3bdd2" stroke-width="0.7"/>
<rect x="811.3" y="732.1" width="1.6" height="16.4" rx="0.8" fill="#f4f2f8"/>
<rect x="818.7" y="729.6" width="4.6" height="21.4" rx="2.3" fill="#d5d0e2" stroke="#c3bdd2" stroke-width="0.7"/>
<rect x="820.2" y="732.1" width="1.6" height="16.4" rx="0.8" fill="#f4f2f8"/>
<rect x="827.6" y="729.6" width="4.6" height="21.4" rx="2.3" fill="#d5d0e2" stroke="#c3bdd2" stroke-width="0.7"/>
<rect x="829.1" y="732.1" width="1.6" height="16.4" rx="0.8" fill="#f4f2f8"/>
<rect x="836.5" y="729.6" width="4.6" height="21.4" rx="2.3" fill="#d5d0e2" stroke="#c3bdd2" stroke-width="0.7"/>
<rect x="838.0" y="732.1" width="1.6" height="16.4" rx="0.8" fill="#f4f2f8"/>
<rect x="845.4" y="729.6" width="4.6" height="21.4" rx="2.3" fill="#d5d0e2" stroke="#c3bdd2" stroke-width="0.7"/>
<rect x="846.9" y="732.1" width="1.6" height="16.4" rx="0.8" fill="#f4f2f8"/>
<line x1="745.0" y1="753.7" x2="745.0" y2="810.3" stroke="#b8949e" stroke-width="0.9"/>
<circle cx="745.0" cy="753.7" r="3.3" fill="#f5ead8" stroke="#dcc7a8" stroke-width="0.7"/>
<line x1="801.7" y1="753.7" x2="801.7" y2="810.3" stroke="#b8949e" stroke-width="0.9"/>
<circle cx="801.7" cy="753.7" r="3.3" fill="#f5ead8" stroke="#dcc7a8" stroke-width="0.7"/>
</g>
<g clip-path="url(#rc2)">
<rect x="701.5" y="820.8" width="147.7" height="144.2" fill="#ffffff"/>
<rect x="701.5" y="922.8" width="147.7" height="42.2" fill="#fbf3e5"/>
<rect x="696.1" y="865.2" width="48.3" height="63.6" rx="6" fill="#dfcadc" stroke="#c6a9bd" stroke-width="0.9"/>
<rect x="745.6" y="865.2" width="55.5" height="63.6" rx="6" fill="#dfcadc" stroke="#c6a9bd" stroke-width="0.9"/>
<rect x="802.3" y="865.2" width="52.3" height="63.6" rx="6" fill="#dfcadc" stroke="#c6a9bd" stroke-width="0.9"/>
<ellipse cx="718.6" cy="910.2" rx="12" ry="10.5" fill="#c68dcb"/>
<ellipse cx="833.3" cy="910.2" rx="12" ry="10.5" fill="#c68dcb"/>
<path d="M699.5 834.3 L704.6 834.7 L709.6 835.0 L714.7 835.2 L719.7 835.4 L724.8 835.4 L729.8 835.3 L734.9 835.2 L740.0 834.9 L745.0 834.6 L750.1 834.2 L755.1 833.8 L760.2 833.3 L765.2 832.8 L770.3 832.4 L775.4 832.0 L780.4 831.6 L785.5 831.3 L790.5 831.1 L795.6 831.0 L800.6 831.0 L805.7 831.1 L810.7 831.3 L815.8 831.6 L820.9 831.9 L825.9 832.3 L831.0 832.8 L836.0 833.3 L841.1 833.7 L846.1 834.2 L851.2 834.6 L851.2 869.0 L846.1 869.2 L841.1 869.3 L836.0 869.4 L831.0 869.6 L825.9 869.7 L820.9 869.9 L815.8 870.0 L810.7 870.2 L805.7 870.3 L800.6 870.4 L795.6 870.6 L790.5 870.7 L785.5 870.7 L780.4 870.8 L775.4 870.9 L770.3 870.9 L765.2 870.9 L760.2 870.9 L755.1 870.9 L750.1 870.8 L745.0 870.8 L740.0 870.7 L734.9 870.6 L729.8 870.5 L724.8 870.4 L719.7 870.2 L714.7 870.1 L709.6 869.9 L704.6 869.8 L699.5 869.6 Z" fill="#ebe9f4"/>
<path d="M699.5 834.3 L704.6 834.7 L709.6 835.0 L714.7 835.2 L719.7 835.4 L724.8 835.4 L729.8 835.3 L734.9 835.2 L740.0 834.9 L745.0 834.6 L750.1 834.2 L755.1 833.8 L760.2 833.3 L765.2 832.8 L770.3 832.4 L775.4 832.0 L780.4 831.6 L785.5 831.3 L790.5 831.1 L795.6 831.0 L800.6 831.0 L805.7 831.1 L810.7 831.3 L815.8 831.6 L820.9 831.9 L825.9 832.3 L831.0 832.8 L836.0 833.3 L841.1 833.7 L846.1 834.2 L851.2 834.6" fill="none" stroke="#b7b4c8" stroke-width="1.1"/>
<path d="M851.2 869.0 L846.1 869.2 L841.1 869.3 L836.0 869.4 L831.0 869.6 L825.9 869.7 L820.9 869.9 L815.8 870.0 L810.7 870.2 L805.7 870.3 L800.6 870.4 L795.6 870.6 L790.5 870.7 L785.5 870.7 L780.4 870.8 L775.4 870.9 L770.3 870.9 L765.2 870.9 L760.2 870.9 L755.1 870.9 L750.1 870.8 L745.0 870.8 L740.0 870.7 L734.9 870.6 L729.8 870.5 L724.8 870.4 L719.7 870.2 L714.7 870.1 L709.6 869.9 L704.6 869.8 L699.5 869.6" fill="none" stroke="#b9b0c4" stroke-width="1"/>
<rect x="703.0" y="846.0" width="4.6" height="22.7" rx="2.3" fill="#d5d0e2" stroke="#c3bdd2" stroke-width="0.7"/>
<rect x="704.5" y="848.5" width="1.6" height="17.7" rx="0.8" fill="#f4f2f8"/>
<rect x="711.9" y="846.0" width="4.6" height="22.7" rx="2.3" fill="#d5d0e2" stroke="#c3bdd2" stroke-width="0.7"/>
<rect x="713.4" y="848.5" width="1.6" height="17.7" rx="0.8" fill="#f4f2f8"/>
<rect x="720.8" y="846.0" width="4.6" height="22.7" rx="2.3" fill="#d5d0e2" stroke="#c3bdd2" stroke-width="0.7"/>
<rect x="722.3" y="848.5" width="1.6" height="17.7" rx="0.8" fill="#f4f2f8"/>
<rect x="729.7" y="846.0" width="4.6" height="22.7" rx="2.3" fill="#d5d0e2" stroke="#c3bdd2" stroke-width="0.7"/>
<rect x="731.2" y="848.5" width="1.6" height="17.7" rx="0.8" fill="#f4f2f8"/>
<rect x="738.6" y="846.0" width="4.6" height="22.7" rx="2.3" fill="#d5d0e2" stroke="#c3bdd2" stroke-width="0.7"/>
<rect x="740.1" y="848.5" width="1.6" height="17.7" rx="0.8" fill="#f4f2f8"/>
<rect x="747.5" y="846.0" width="4.6" height="22.7" rx="2.3" fill="#d5d0e2" stroke="#c3bdd2" stroke-width="0.7"/>
<rect x="749.0" y="848.5" width="1.6" height="17.7" rx="0.8" fill="#f4f2f8"/>
<rect x="756.4" y="846.0" width="4.6" height="22.7" rx="2.3" fill="#d5d0e2" stroke="#c3bdd2" stroke-width="0.7"/>
<rect x="757.9" y="848.5" width="1.6" height="17.7" rx="0.8" fill="#f4f2f8"/>
<rect x="765.3" y="846.0" width="4.6" height="22.7" rx="2.3" fill="#d5d0e2" stroke="#c3bdd2" stroke-width="0.7"/>
<rect x="766.8" y="848.5" width="1.6" height="17.7" rx="0.8" fill="#f4f2f8"/>
<rect x="774.2" y="846.0" width="4.6" height="22.7" rx="2.3" fill="#d5d0e2" stroke="#c3bdd2" stroke-width="0.7"/>
<rect x="775.7" y="848.5" width="1.6" height="17.7" rx="0.8" fill="#f4f2f8"/>
<rect x="783.1" y="846.0" width="4.6" height="22.7" rx="2.3" fill="#d5d0e2" stroke="#c3bdd2" stroke-width="0.7"/>
<rect x="784.6" y="848.5" width="1.6" height="17.7" rx="0.8" fill="#f4f2f8"/>
<rect x="792.0" y="846.0" width="4.6" height="22.7" rx="2.3" fill="#d5d0e2" stroke="#c3bdd2" stroke-width="0.7"/>
<rect x="793.5" y="848.5" width="1.6" height="17.7" rx="0.8" fill="#f4f2f8"/>
<rect x="800.9" y="846.0" width="4.6" height="22.7" rx="2.3" fill="#d5d0e2" stroke="#c3bdd2" stroke-width="0.7"/>
<rect x="802.4" y="848.5" width="1.6" height="17.7" rx="0.8" fill="#f4f2f8"/>
<rect x="809.8" y="846.0" width="4.6" height="22.7" rx="2.3" fill="#d5d0e2" stroke="#c3bdd2" stroke-width="0.7"/>
<rect x="811.3" y="848.5" width="1.6" height="17.7" rx="0.8" fill="#f4f2f8"/>
<rect x="818.7" y="846.0" width="4.6" height="22.7" rx="2.3" fill="#d5d0e2" stroke="#c3bdd2" stroke-width="0.7"/>
<rect x="820.2" y="848.5" width="1.6" height="17.7" rx="0.8" fill="#f4f2f8"/>
<rect x="827.6" y="846.0" width="4.6" height="22.7" rx="2.3" fill="#d5d0e2" stroke="#c3bdd2" stroke-width="0.7"/>
<rect x="829.1" y="848.5" width="1.6" height="17.7" rx="0.8" fill="#f4f2f8"/>
<rect x="836.5" y="846.0" width="4.6" height="22.7" rx="2.3" fill="#d5d0e2" stroke="#c3bdd2" stroke-width="0.7"/>
<rect x="838.0" y="848.5" width="1.6" height="17.7" rx="0.8" fill="#f4f2f8"/>
<rect x="845.4" y="846.0" width="4.6" height="22.7" rx="2.3" fill="#d5d0e2" stroke="#c3bdd2" stroke-width="0.7"/>
<rect x="846.9" y="848.5" width="1.6" height="17.7" rx="0.8" fill="#f4f2f8"/>
<line x1="745.0" y1="871.2" x2="745.0" y2="928.8" stroke="#b8949e" stroke-width="0.9"/>
<circle cx="745.0" cy="871.2" r="3.3" fill="#f5ead8" stroke="#dcc7a8" stroke-width="0.7"/>
<line x1="801.7" y1="871.2" x2="801.7" y2="928.8" stroke="#b8949e" stroke-width="0.9"/>
<circle cx="801.7" cy="871.2" r="3.3" fill="#f5ead8" stroke="#dcc7a8" stroke-width="0.7"/>
</g>
<g opacity="1.00"><circle cx="735.6" cy="543.3" r="2.60" fill="#f4e2bc"/><circle cx="735.0" cy="546.4" r="2.60" fill="#eac2c9"/><circle cx="734.1" cy="548.1" r="2.60" fill="#f4e2bc"/><circle cx="732.6" cy="549.6" r="2.60" fill="#f4e2bc"/><circle cx="730.0" cy="551.1" r="2.60" fill="#f4e2bc"/><circle cx="727.0" cy="551.4" r="2.60" fill="#f2d9a8"/><circle cx="725.1" cy="551.1" r="2.60" fill="#efcdd2"/><circle cx="723.3" cy="550.3" r="2.60" fill="#e9d3b0"/><circle cx="720.9" cy="548.0" r="2.60" fill="#f4e2bc"/><circle cx="719.6" cy="545.1" r="2.60" fill="#eac2c9"/><circle cx="719.4" cy="543.2" r="2.60" fill="#f4e2bc"/><circle cx="719.9" cy="540.7" r="2.60" fill="#f4e2bc"/><circle cx="720.6" cy="539.3" r="2.60" fill="#f4e2bc"/><circle cx="722.2" cy="537.3" r="2.60" fill="#f2d9a8"/><circle cx="724.5" cy="535.9" r="2.60" fill="#efcdd2"/><circle cx="727.7" cy="535.3" r="2.60" fill="#eac2c9"/><circle cx="729.7" cy="535.7" r="2.60" fill="#f4e2bc"/><circle cx="732.7" cy="537.2" r="2.60" fill="#f4e2bc"/><circle cx="733.8" cy="538.3" r="2.60" fill="#f2dfb8"/><circle cx="735.2" cy="540.9" r="2.60" fill="#e9d3b0"/><circle cx="727.5" cy="543.4" r="5.46" fill="#f7f3f8"/><circle cx="725.2" cy="544.0" r="1.04" fill="#2b8fa0"/><circle cx="728.5" cy="546.6" r="1.04" fill="#3a2a48"/><circle cx="729.5" cy="541.4" r="1.04" fill="#b45aa0"/><circle cx="726.9" cy="540.5" r="1.04" fill="#8a9ad0"/><line x1="732.9" y1="544.2" x2="740.6" y2="545.4" stroke="#5a4c30" stroke-width="0.97" stroke-linecap="round"/><circle cx="732.9" cy="544.2" r="0.78" fill="#4a2a55"/><line x1="730.0" y1="548.3" x2="733.5" y2="555.2" stroke="#5a4c30" stroke-width="0.97" stroke-linecap="round"/><circle cx="730.0" cy="548.3" r="0.78" fill="#4a2a55"/><line x1="724.3" y1="547.8" x2="719.6" y2="554.1" stroke="#5a4c30" stroke-width="0.97" stroke-linecap="round"/><circle cx="724.3" cy="547.8" r="0.78" fill="#4a2a55"/><line x1="722.2" y1="541.9" x2="714.7" y2="539.9" stroke="#5a4c30" stroke-width="0.97" stroke-linecap="round"/><circle cx="722.2" cy="541.9" r="0.78" fill="#4a2a55"/><line x1="724.4" y1="538.9" x2="719.9" y2="532.5" stroke="#5a4c30" stroke-width="0.97" stroke-linecap="round"/><circle cx="724.4" cy="538.9" r="0.78" fill="#4a2a55"/><line x1="730.2" y1="538.6" x2="734.0" y2="531.8" stroke="#5a4c30" stroke-width="0.97" stroke-linecap="round"/><circle cx="730.2" cy="538.6" r="0.78" fill="#4a2a55"/></g>
<g opacity="1.00"><circle cx="769.6" cy="548.0" r="1.90" fill="#e9d3b0"/><circle cx="769.1" cy="550.4" r="1.90" fill="#f2dfb8"/><circle cx="767.9" cy="552.1" r="1.90" fill="#f2d9a8"/><circle cx="765.0" cy="553.8" r="1.90" fill="#eac2c9"/><circle cx="763.3" cy="553.9" r="1.90" fill="#eac2c9"/><circle cx="760.6" cy="553.0" r="1.90" fill="#f4e2bc"/><circle cx="759.1" cy="551.7" r="1.90" fill="#f2d9a8"/><circle cx="757.9" cy="549.0" r="1.90" fill="#efcdd2"/><circle cx="758.1" cy="546.2" r="1.90" fill="#f2dfb8"/><circle cx="758.7" cy="544.9" r="1.90" fill="#efcdd2"/><circle cx="760.3" cy="543.2" r="1.90" fill="#efcdd2"/><circle cx="762.6" cy="542.2" r="1.90" fill="#e9d3b0"/><circle cx="765.9" cy="542.5" r="1.90" fill="#e9d3b0"/><circle cx="767.6" cy="543.5" r="1.90" fill="#f2d9a8"/><circle cx="768.8" cy="545.1" r="1.90" fill="#f2d9a8"/><circle cx="763.7" cy="548.0" r="3.99" fill="#f7f3f8"/><circle cx="762.0" cy="548.5" r="0.76" fill="#2b8fa0"/><circle cx="764.5" cy="550.4" r="0.76" fill="#3a2a48"/><circle cx="765.1" cy="546.6" r="0.76" fill="#b45aa0"/><circle cx="763.2" cy="545.9" r="0.76" fill="#8a9ad0"/><line x1="766.1" y1="551.2" x2="769.5" y2="555.7" stroke="#5a4c30" stroke-width="0.75" stroke-linecap="round"/><circle cx="766.1" cy="551.2" r="0.60" fill="#4a2a55"/><line x1="762.8" y1="551.9" x2="761.6" y2="557.5" stroke="#5a4c30" stroke-width="0.75" stroke-linecap="round"/><circle cx="762.8" cy="551.9" r="0.60" fill="#4a2a55"/><line x1="759.7" y1="547.9" x2="754.0" y2="547.8" stroke="#5a4c30" stroke-width="0.75" stroke-linecap="round"/><circle cx="759.7" cy="547.9" r="0.60" fill="#4a2a55"/><line x1="761.0" y1="545.1" x2="757.1" y2="540.9" stroke="#5a4c30" stroke-width="0.75" stroke-linecap="round"/><circle cx="761.0" cy="545.1" r="0.60" fill="#4a2a55"/><line x1="764.9" y1="544.2" x2="766.7" y2="538.8" stroke="#5a4c30" stroke-width="0.75" stroke-linecap="round"/><circle cx="764.9" cy="544.2" r="0.60" fill="#4a2a55"/><line x1="767.7" y1="547.5" x2="773.3" y2="546.8" stroke="#5a4c30" stroke-width="0.75" stroke-linecap="round"/><circle cx="767.7" cy="547.5" r="0.60" fill="#4a2a55"/></g>
<path d="M779.5 550 Q795 560 797 580" fill="none" stroke="#2a2a2a" stroke-width="1.1"/><path d="M793.5 578 L797.3 585 L800 577.5 Z" fill="#2a2a2a"/>
<ellipse cx="793.5" cy="596.5" rx="3.6" ry="2.6" transform="rotate(-20 793.5 596.5)" fill="#d2622e"/><line x1="795" y1="598.5" x2="800" y2="604" stroke="#d2622e" stroke-width="1.2"/>
<text x="751.5" y="602.8" font-size="12.5" fill="#222" stroke="#222" stroke-width="0.25">FcRn</text>
<g opacity="1.00"><circle cx="760.3" cy="697.4" r="2.80" fill="#e9d3b0"/><circle cx="760.0" cy="700.3" r="2.80" fill="#f2dfb8"/><circle cx="758.9" cy="702.7" r="2.80" fill="#efcdd2"/><circle cx="756.6" cy="705.1" r="2.80" fill="#eac2c9"/><circle cx="754.7" cy="706.1" r="2.80" fill="#f4e2bc"/><circle cx="753.4" cy="706.5" r="2.80" fill="#f4e2bc"/><circle cx="750.8" cy="706.6" r="2.80" fill="#f2d9a8"/><circle cx="748.8" cy="706.2" r="2.80" fill="#f4e2bc"/><circle cx="746.0" cy="704.6" r="2.80" fill="#efcdd2"/><circle cx="744.0" cy="702.3" r="2.80" fill="#efcdd2"/><circle cx="743.1" cy="699.7" r="2.80" fill="#e9d3b0"/><circle cx="743.0" cy="698.8" r="2.80" fill="#e9d3b0"/><circle cx="743.4" cy="695.1" r="2.80" fill="#eac2c9"/><circle cx="744.4" cy="693.1" r="2.80" fill="#f2d9a8"/><circle cx="746.5" cy="690.9" r="2.80" fill="#f4e2bc"/><circle cx="748.0" cy="690.1" r="2.80" fill="#f2d9a8"/><circle cx="750.6" cy="689.4" r="2.80" fill="#f2dfb8"/><circle cx="752.0" cy="689.3" r="2.80" fill="#e9d3b0"/><circle cx="755.7" cy="690.3" r="2.80" fill="#f2d9a8"/><circle cx="757.7" cy="691.8" r="2.80" fill="#f2d9a8"/><circle cx="758.9" cy="693.2" r="2.80" fill="#f4e2bc"/><circle cx="760.0" cy="695.9" r="2.80" fill="#eac2c9"/><circle cx="751.6" cy="698.0" r="5.88" fill="#f7f3f8"/><circle cx="749.1" cy="698.7" r="1.12" fill="#2b8fa0"/><circle cx="752.7" cy="701.5" r="1.12" fill="#3a2a48"/><circle cx="753.7" cy="695.9" r="1.12" fill="#b45aa0"/><circle cx="750.9" cy="694.9" r="1.12" fill="#8a9ad0"/><line x1="757.1" y1="700.2" x2="764.9" y2="703.2" stroke="#5a4c30" stroke-width="1.05" stroke-linecap="round"/><circle cx="757.1" cy="700.2" r="0.84" fill="#4a2a55"/><line x1="752.8" y1="703.8" x2="754.6" y2="712.0" stroke="#5a4c30" stroke-width="1.05" stroke-linecap="round"/><circle cx="752.8" cy="703.8" r="0.84" fill="#4a2a55"/><line x1="746.2" y1="700.2" x2="738.4" y2="703.4" stroke="#5a4c30" stroke-width="1.05" stroke-linecap="round"/><circle cx="746.2" cy="700.2" r="0.84" fill="#4a2a55"/><line x1="746.2" y1="695.7" x2="738.4" y2="692.5" stroke="#5a4c30" stroke-width="1.05" stroke-linecap="round"/><circle cx="746.2" cy="695.7" r="0.84" fill="#4a2a55"/><line x1="752.2" y1="692.2" x2="753.0" y2="683.8" stroke="#5a4c30" stroke-width="1.05" stroke-linecap="round"/><circle cx="752.2" cy="692.2" r="0.84" fill="#4a2a55"/><line x1="756.2" y1="694.4" x2="762.9" y2="689.2" stroke="#5a4c30" stroke-width="1.05" stroke-linecap="round"/><circle cx="756.2" cy="694.4" r="0.84" fill="#4a2a55"/></g>
<g opacity="0.80"><circle cx="806.9" cy="693.7" r="1.20" fill="#efcdd2"/><circle cx="806.3" cy="695.4" r="1.20" fill="#f4e2bc"/><circle cx="804.0" cy="697.0" r="1.20" fill="#efcdd2"/><circle cx="801.9" cy="696.9" r="1.20" fill="#e9d3b0"/><circle cx="800.1" cy="695.5" r="1.20" fill="#f2dfb8"/><circle cx="799.5" cy="693.2" r="1.20" fill="#f2d9a8"/><circle cx="800.1" cy="691.4" r="1.20" fill="#f2d9a8"/><circle cx="801.9" cy="689.9" r="1.20" fill="#f4e2bc"/><circle cx="804.1" cy="689.8" r="1.20" fill="#f4e2bc"/><circle cx="806.3" cy="691.3" r="1.20" fill="#eac2c9"/><circle cx="803.2" cy="693.4" r="2.52" fill="#f7f3f8"/><circle cx="802.1" cy="693.7" r="0.70" fill="#2b8fa0"/><circle cx="803.7" cy="694.9" r="0.70" fill="#3a2a48"/><circle cx="804.1" cy="692.5" r="0.70" fill="#b45aa0"/><circle cx="802.9" cy="692.1" r="0.70" fill="#8a9ad0"/><line x1="805.3" y1="694.7" x2="808.4" y2="696.6" stroke="#5a4c30" stroke-width="0.75" stroke-linecap="round"/><circle cx="805.3" cy="694.7" r="0.60" fill="#4a2a55"/><line x1="802.3" y1="695.7" x2="800.9" y2="699.1" stroke="#5a4c30" stroke-width="0.75" stroke-linecap="round"/><circle cx="802.3" cy="695.7" r="0.60" fill="#4a2a55"/><line x1="800.8" y1="694.1" x2="797.3" y2="695.0" stroke="#5a4c30" stroke-width="0.75" stroke-linecap="round"/><circle cx="800.8" cy="694.1" r="0.60" fill="#4a2a55"/><line x1="801.2" y1="691.9" x2="798.4" y2="689.6" stroke="#5a4c30" stroke-width="0.75" stroke-linecap="round"/><circle cx="801.2" cy="691.9" r="0.60" fill="#4a2a55"/><line x1="803.4" y1="690.9" x2="803.7" y2="687.3" stroke="#5a4c30" stroke-width="0.75" stroke-linecap="round"/><circle cx="803.4" cy="690.9" r="0.60" fill="#4a2a55"/><line x1="805.7" y1="693.0" x2="809.2" y2="692.4" stroke="#5a4c30" stroke-width="0.75" stroke-linecap="round"/><circle cx="805.7" cy="693.0" r="0.60" fill="#4a2a55"/></g>
<path d="M763 748 Q770 756 780 748" fill="none" stroke="#c3bdd2" stroke-width="0.8"/>
<circle cx="772" cy="767.6" r="12" fill="#fbf5e8" stroke="#b9a89a" stroke-width="0.9"/>
<g opacity="1.00"><circle cx="776.2" cy="770.5" r="2.00" fill="#f2dfb8"/><circle cx="775.5" cy="772.8" r="2.00" fill="#f2d9a8"/><circle cx="774.8" cy="773.9" r="2.00" fill="#f2dfb8"/><circle cx="772.5" cy="775.7" r="2.00" fill="#f4e2bc"/><circle cx="770.2" cy="776.2" r="2.00" fill="#e9d3b0"/><circle cx="768.0" cy="775.9" r="2.00" fill="#eac2c9"/><circle cx="766.1" cy="774.8" r="2.00" fill="#f4e2bc"/><circle cx="764.3" cy="772.4" r="2.00" fill="#f2d9a8"/><circle cx="763.8" cy="770.5" r="2.00" fill="#e9d3b0"/><circle cx="764.3" cy="767.6" r="2.00" fill="#f2d9a8"/><circle cx="765.6" cy="765.6" r="2.00" fill="#e9d3b0"/><circle cx="767.5" cy="764.3" r="2.00" fill="#f2d9a8"/><circle cx="769.6" cy="763.8" r="2.00" fill="#f2d9a8"/><circle cx="772.5" cy="764.3" r="2.00" fill="#e9d3b0"/><circle cx="774.1" cy="765.3" r="2.00" fill="#efcdd2"/><circle cx="775.9" cy="768.2" r="2.00" fill="#f2dfb8"/><circle cx="770.0" cy="770.0" r="4.20" fill="#f7f3f8"/><circle cx="768.2" cy="770.5" r="0.80" fill="#2b8fa0"/><circle cx="770.8" cy="772.5" r="0.80" fill="#3a2a48"/><circle cx="771.5" cy="768.5" r="0.80" fill="#b45aa0"/><circle cx="769.5" cy="767.8" r="0.80" fill="#8a9ad0"/><line x1="773.1" y1="772.8" x2="777.5" y2="776.9" stroke="#5a4c30" stroke-width="0.75" stroke-linecap="round"/><circle cx="773.1" cy="772.8" r="0.60" fill="#4a2a55"/><line x1="768.1" y1="773.7" x2="765.3" y2="779.1" stroke="#5a4c30" stroke-width="0.75" stroke-linecap="round"/><circle cx="768.1" cy="773.7" r="0.60" fill="#4a2a55"/><line x1="765.8" y1="770.5" x2="759.9" y2="771.3" stroke="#5a4c30" stroke-width="0.75" stroke-linecap="round"/><circle cx="765.8" cy="770.5" r="0.60" fill="#4a2a55"/><line x1="769.4" y1="765.8" x2="768.5" y2="759.9" stroke="#5a4c30" stroke-width="0.75" stroke-linecap="round"/><circle cx="769.4" cy="765.8" r="0.60" fill="#4a2a55"/><line x1="773.4" y1="767.5" x2="778.2" y2="764.0" stroke="#5a4c30" stroke-width="0.75" stroke-linecap="round"/><circle cx="773.4" cy="767.5" r="0.60" fill="#4a2a55"/></g>
<ellipse cx="777.5" cy="759" rx="3.4" ry="2.6" fill="#d2622e"/><line x1="780" y1="757.5" x2="784" y2="754" stroke="#d2622e" stroke-width="1.2"/>
<text x="762.8" y="790.8" font-size="13" fill="#222" stroke="#222" stroke-width="0.25" textLength="72" lengthAdjust="spacingAndGlyphs">Transcytosis</text>
<path d="M754 772 Q750 783 758 791" fill="none" stroke="#2a2a2a" stroke-width="1"/><path d="M755.5 792.5 L761 795 L759.5 789 Z" fill="#2a2a2a"/>
<path d="M759 929 Q759 906 771.7 906 Q784.5 906 784.5 929 Z" fill="#fbf5e8" stroke="#b9a89a" stroke-width="0.9"/>
<rect x="758.5" y="926" width="26.5" height="4" fill="#fbf3e5"/>
<g opacity="1.00"><circle cx="778.3" cy="918.8" r="2.20" fill="#f2d9a8"/><circle cx="777.7" cy="922.3" r="2.20" fill="#efcdd2"/><circle cx="776.4" cy="924.3" r="2.20" fill="#efcdd2"/><circle cx="774.0" cy="925.9" r="2.20" fill="#f4e2bc"/><circle cx="772.5" cy="926.2" r="2.20" fill="#efcdd2"/><circle cx="770.1" cy="926.2" r="2.20" fill="#e9d3b0"/><circle cx="767.9" cy="925.3" r="2.20" fill="#f2d9a8"/><circle cx="766.0" cy="923.5" r="2.20" fill="#f4e2bc"/><circle cx="764.7" cy="920.4" r="2.20" fill="#f4e2bc"/><circle cx="764.8" cy="918.4" r="2.20" fill="#f4e2bc"/><circle cx="765.4" cy="916.4" r="2.20" fill="#f2d9a8"/><circle cx="767.7" cy="913.8" r="2.20" fill="#eac2c9"/><circle cx="769.4" cy="913.0" r="2.20" fill="#efcdd2"/><circle cx="771.9" cy="912.7" r="2.20" fill="#f2dfb8"/><circle cx="774.7" cy="913.5" r="2.20" fill="#efcdd2"/><circle cx="776.3" cy="914.6" r="2.20" fill="#efcdd2"/><circle cx="777.8" cy="916.9" r="2.20" fill="#e9d3b0"/><circle cx="771.5" cy="919.5" r="4.62" fill="#f7f3f8"/><circle cx="769.5" cy="920.0" r="0.88" fill="#2b8fa0"/><circle cx="772.4" cy="922.2" r="0.88" fill="#3a2a48"/><circle cx="773.1" cy="917.9" r="0.88" fill="#b45aa0"/><circle cx="771.0" cy="917.1" r="0.88" fill="#8a9ad0"/><line x1="774.8" y1="922.7" x2="779.6" y2="927.3" stroke="#5a4c30" stroke-width="0.82" stroke-linecap="round"/><circle cx="774.8" cy="922.7" r="0.66" fill="#4a2a55"/><line x1="770.6" y1="924.0" x2="769.4" y2="930.5" stroke="#5a4c30" stroke-width="0.82" stroke-linecap="round"/><circle cx="770.6" cy="924.0" r="0.66" fill="#4a2a55"/><line x1="767.5" y1="921.9" x2="761.8" y2="925.2" stroke="#5a4c30" stroke-width="0.82" stroke-linecap="round"/><circle cx="767.5" cy="921.9" r="0.66" fill="#4a2a55"/><line x1="767.3" y1="917.5" x2="761.4" y2="914.6" stroke="#5a4c30" stroke-width="0.82" stroke-linecap="round"/><circle cx="767.3" cy="917.5" r="0.66" fill="#4a2a55"/><line x1="772.4" y1="915.0" x2="773.6" y2="908.5" stroke="#5a4c30" stroke-width="0.82" stroke-linecap="round"/><circle cx="772.4" cy="915.0" r="0.66" fill="#4a2a55"/><line x1="776.0" y1="918.3" x2="782.3" y2="916.5" stroke="#5a4c30" stroke-width="0.82" stroke-linecap="round"/><circle cx="776.0" cy="918.3" r="0.66" fill="#4a2a55"/></g>
<ellipse cx="780" cy="906.5" rx="3.4" ry="2.6" transform="rotate(-30 780 906.5)" fill="#d2622e"/><line x1="782" y1="905" x2="786" y2="901" stroke="#d2622e" stroke-width="1.2"/>
<g opacity="0.80"><circle cx="728.7" cy="948.9" r="1.30" fill="#efcdd2"/><circle cx="728.1" cy="951.3" r="1.30" fill="#e9d3b0"/><circle cx="725.6" cy="953.1" r="1.30" fill="#eac2c9"/><circle cx="723.8" cy="953.1" r="1.30" fill="#f2d9a8"/><circle cx="721.6" cy="951.8" r="1.30" fill="#f4e2bc"/><circle cx="720.7" cy="949.3" r="1.30" fill="#f2d9a8"/><circle cx="721.5" cy="946.8" r="1.30" fill="#eac2c9"/><circle cx="723.4" cy="945.4" r="1.30" fill="#f2d9a8"/><circle cx="726.0" cy="945.4" r="1.30" fill="#efcdd2"/><circle cx="728.0" cy="946.8" r="1.30" fill="#eac2c9"/><circle cx="724.7" cy="949.2" r="2.73" fill="#f7f3f8"/><circle cx="723.5" cy="949.5" r="0.70" fill="#2b8fa0"/><circle cx="725.2" cy="950.8" r="0.70" fill="#3a2a48"/><circle cx="725.7" cy="948.2" r="0.70" fill="#b45aa0"/><circle cx="724.4" cy="947.8" r="0.70" fill="#8a9ad0"/><line x1="726.4" y1="951.4" x2="728.8" y2="954.4" stroke="#5a4c30" stroke-width="0.75" stroke-linecap="round"/><circle cx="726.4" cy="951.4" r="0.60" fill="#4a2a55"/><line x1="723.7" y1="951.7" x2="722.2" y2="955.4" stroke="#5a4c30" stroke-width="0.75" stroke-linecap="round"/><circle cx="723.7" cy="951.7" r="0.60" fill="#4a2a55"/><line x1="722.0" y1="949.5" x2="718.1" y2="949.8" stroke="#5a4c30" stroke-width="0.75" stroke-linecap="round"/><circle cx="722.0" cy="949.5" r="0.60" fill="#4a2a55"/><line x1="722.5" y1="947.6" x2="719.4" y2="945.2" stroke="#5a4c30" stroke-width="0.75" stroke-linecap="round"/><circle cx="722.5" cy="947.6" r="0.60" fill="#4a2a55"/><line x1="724.9" y1="946.5" x2="725.1" y2="942.6" stroke="#5a4c30" stroke-width="0.75" stroke-linecap="round"/><circle cx="724.9" cy="946.5" r="0.60" fill="#4a2a55"/><line x1="727.2" y1="948.0" x2="730.7" y2="946.4" stroke="#5a4c30" stroke-width="0.75" stroke-linecap="round"/><circle cx="727.2" cy="948.0" r="0.60" fill="#4a2a55"/></g>
<g opacity="1.00"><circle cx="806.7" cy="950.1" r="1.90" fill="#e9d3b0"/><circle cx="806.3" cy="952.1" r="1.90" fill="#f2dfb8"/><circle cx="804.8" cy="954.4" r="1.90" fill="#f4e2bc"/><circle cx="802.2" cy="955.7" r="1.90" fill="#efcdd2"/><circle cx="799.6" cy="955.8" r="1.90" fill="#f4e2bc"/><circle cx="797.4" cy="954.8" r="1.90" fill="#f2dfb8"/><circle cx="795.7" cy="953.0" r="1.90" fill="#f4e2bc"/><circle cx="795.0" cy="951.2" r="1.90" fill="#f2dfb8"/><circle cx="795.2" cy="948.3" r="1.90" fill="#e9d3b0"/><circle cx="795.8" cy="947.0" r="1.90" fill="#eac2c9"/><circle cx="797.7" cy="945.0" r="1.90" fill="#eac2c9"/><circle cx="800.7" cy="944.1" r="1.90" fill="#e9d3b0"/><circle cx="802.7" cy="944.4" r="1.90" fill="#e9d3b0"/><circle cx="804.9" cy="945.8" r="1.90" fill="#f2dfb8"/><circle cx="806.4" cy="948.1" r="1.90" fill="#f4e2bc"/><circle cx="800.8" cy="950.0" r="3.99" fill="#f7f3f8"/><circle cx="799.1" cy="950.5" r="0.76" fill="#2b8fa0"/><circle cx="801.6" cy="952.4" r="0.76" fill="#3a2a48"/><circle cx="802.2" cy="948.6" r="0.76" fill="#b45aa0"/><circle cx="800.3" cy="947.9" r="0.76" fill="#8a9ad0"/><line x1="803.9" y1="952.6" x2="808.2" y2="956.2" stroke="#5a4c30" stroke-width="0.75" stroke-linecap="round"/><circle cx="803.9" cy="952.6" r="0.60" fill="#4a2a55"/><line x1="799.1" y1="953.6" x2="796.8" y2="958.8" stroke="#5a4c30" stroke-width="0.75" stroke-linecap="round"/><circle cx="799.1" cy="953.6" r="0.60" fill="#4a2a55"/><line x1="797.0" y1="951.3" x2="791.6" y2="953.1" stroke="#5a4c30" stroke-width="0.75" stroke-linecap="round"/><circle cx="797.0" cy="951.3" r="0.60" fill="#4a2a55"/><line x1="798.5" y1="946.7" x2="795.3" y2="942.0" stroke="#5a4c30" stroke-width="0.75" stroke-linecap="round"/><circle cx="798.5" cy="946.7" r="0.60" fill="#4a2a55"/><line x1="802.7" y1="946.5" x2="805.3" y2="941.4" stroke="#5a4c30" stroke-width="0.75" stroke-linecap="round"/><circle cx="802.7" cy="946.5" r="0.60" fill="#4a2a55"/><line x1="804.8" y1="949.8" x2="810.5" y2="949.6" stroke="#5a4c30" stroke-width="0.75" stroke-linecap="round"/><circle cx="804.8" cy="949.8" r="0.60" fill="#4a2a55"/></g>
<path d="M769.5 938 Q765 942 760 943" fill="none" stroke="#1a1a1a" stroke-width="1.3"/><path d="M761.5 940 L757 943.8 L762.5 946 Z" fill="#1a1a1a"/>
<rect x="682.5" y="521.5" width="167.5" height="144" fill="none" stroke="#393232" stroke-width="1.9"/>
<rect x="683.5" y="522.5" width="16.5" height="142" fill="#f9efee"/>
<line x1="700.6" y1="521.5" x2="700.6" y2="665.5" stroke="#393232" stroke-width="1.6"/>
<rect x="682.5" y="669.8" width="167.5" height="144.2" fill="none" stroke="#393232" stroke-width="1.9"/>
<rect x="683.5" y="670.8" width="16.5" height="142.2" fill="#f9efee"/>
<line x1="700.6" y1="669.8" x2="700.6" y2="814" stroke="#393232" stroke-width="1.6"/>
<rect x="682.5" y="820.8" width="167.5" height="144.2" fill="none" stroke="#393232" stroke-width="1.9"/>
<rect x="683.5" y="821.8" width="16.5" height="142.2" fill="#f9efee"/>
<line x1="700.6" y1="820.8" x2="700.6" y2="965" stroke="#393232" stroke-width="1.6"/>
<circle cx="691.7" cy="594.4" r="7" fill="#f9efee" stroke="#3a3333" stroke-width="0.9"/>
<text class="serif" x="691.7" y="598.6" text-anchor="middle" font-size="12" fill="#2a2222">1</text>
<circle cx="691.7" cy="740.5" r="7" fill="#f9efee" stroke="#3a3333" stroke-width="0.9"/>
<text class="serif" x="691.7" y="744.7" text-anchor="middle" font-size="12" fill="#2a2222">2</text>
<circle cx="691.7" cy="894.4" r="7" fill="#f9efee" stroke="#3a3333" stroke-width="0.9"/>
<text class="serif" x="691.7" y="898.6" text-anchor="middle" font-size="12" fill="#2a2222">3</text>
<rect x="855.5" y="520" width="136.5" height="144" fill="#e7f3f2" stroke="#a9aeae" stroke-width="1"/>
<rect x="855.5" y="670.5" width="136.5" height="144.5" fill="#e7f3f2" stroke="#a9aeae" stroke-width="1"/>
<rect x="855.5" y="820.5" width="136.5" height="146" fill="#e7f3f2" stroke="#a9aeae" stroke-width="1"/>
<text x="922.5" y="576.5" font-size="14.7" fill="#2b2b2b" stroke="#2b2b2b" stroke-width="0.18" text-anchor="middle">Binding to FcRn on</text>
<text x="922.5" y="594.2" font-size="14.7" fill="#2b2b2b" stroke="#2b2b2b" stroke-width="0.18" text-anchor="middle">epithelial cells</text>
<text x="923" y="734" font-size="14.7" fill="#2b2b2b" stroke="#2b2b2b" stroke-width="0.18" text-anchor="middle">Transcytosis to</text>
<text x="923" y="752" font-size="14.7" fill="#2b2b2b" stroke="#2b2b2b" stroke-width="0.18" text-anchor="middle">basolateral</text>
<text x="922.5" y="878" font-size="14.7" fill="#2b2b2b" stroke="#2b2b2b" stroke-width="0.18" text-anchor="middle">Reaching the</text>
<text x="922.5" y="895.5" font-size="14.7" fill="#2b2b2b" stroke="#2b2b2b" stroke-width="0.18" text-anchor="middle">basolateral and</text>
<text x="922.5" y="913" font-size="14.7" fill="#2b2b2b" stroke="#2b2b2b" stroke-width="0.18" text-anchor="middle">activating mucosal</text>
<text x="922.5" y="930.5" font-size="14.7" fill="#2b2b2b" stroke="#2b2b2b" stroke-width="0.18" text-anchor="middle">immunity</text>
</svg>
</body></html>
